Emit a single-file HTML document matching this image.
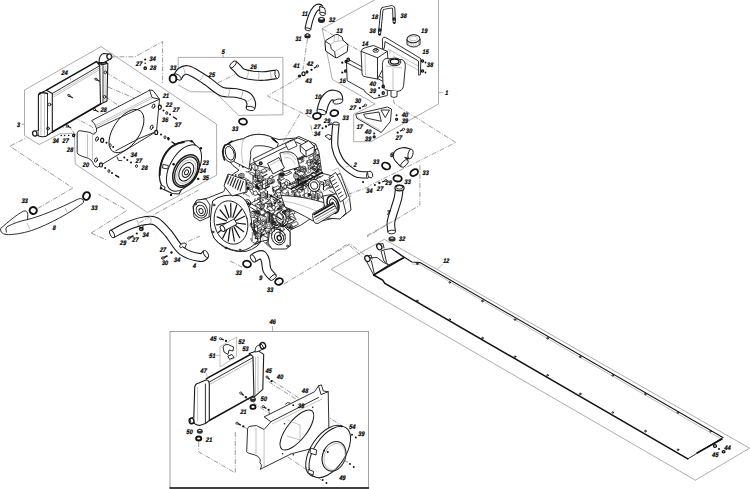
<!DOCTYPE html>
<html><head><meta charset="utf-8"><style>
html,body{margin:0;padding:0;background:#fff;overflow:hidden;width:750px;height:489px;}
svg{display:block;}
text{font-family:"Liberation Sans",sans-serif;font-style:italic;font-weight:bold;fill:#000;stroke:#000;stroke-width:0.22;text-anchor:middle;}
.ln{fill:none;stroke:#1a1a1a;stroke-width:0.9;stroke-linejoin:round;stroke-linecap:round;}
.lnw{fill:#fff;stroke:#1a1a1a;stroke-width:0.9;}
.lnk{fill:none;stroke:#111;stroke-width:1.3;}
.thk{fill:none;stroke:#111;stroke-width:1.5;stroke-linecap:round;}
.box{fill:none;stroke:#8a8a8a;stroke-width:0.7;}
.dsh{fill:none;stroke:#666;stroke-width:0.65;stroke-dasharray:5 1.5 1 1.5;}
.gry{fill:none;stroke:#999;stroke-width:0.6;}
.fw{fill:#fff;stroke:#1a1a1a;stroke-width:0.9;stroke-linejoin:round;}
</style></head><body>
<svg width="750" height="489" viewBox="0 0 750 489">
<rect width="750" height="489" fill="#fff"/>
<polygon class="box" points="24.5,90.0 101.0,46.6 216.6,124.2 216.6,175.2 147.5,212.5 75.2,164.0 74.4,133.3 59.7,133.9 39.2,144.5 24.5,135.5" />
<line class="box" x1="21.5" y1="124.3" x2="24.5" y2="124.3"/>
<text transform="translate(18.4,126.7) scale(0.86,1) skewX(-4)" font-size="6.6">3</text>
<polyline class="box" points="178.2,72.9 178.2,57.4 282.9,57.4 282.9,114.8 238.7,115.4 215.0,92.0 190.5,91.7 178.2,85.0" />
<line class="box" x1="223.2" y1="55.0" x2="223.2" y2="57.4"/>
<text transform="translate(223.2,54.2) scale(0.86,1) skewX(-4)" font-size="6.6">5</text>
<polyline class="box" points="374.5,0.0 322.2,28.5 332.3,79.4 375.2,104.0 353.7,114.2 353.7,141.7 371.0,141.7 438.5,104.0 438.5,0.0" />
<line class="box" x1="438.5" y1="92.7" x2="443.0" y2="92.7"/>
<text transform="translate(446.7,95.1) scale(0.86,1) skewX(-4)" font-size="6.6">1</text>
<polygon class="box" points="331.0,269.3 384.4,239.3 749.5,448.2 695.4,480.2" />
<rect x="170" y="331.4" width="198.5" height="156.6" fill="none" stroke="#8a8a8a" stroke-width="0.8"/>
<line class="thk" x1="170.0" y1="488.0" x2="368.5" y2="488.0"/>
<line class="box" x1="272.6" y1="326.0" x2="272.6" y2="331.4"/>
<text transform="translate(272.6,323.6) scale(0.86,1) skewX(-4)" font-size="6.6">46</text>
<polyline class="dsh" points="105.4,72.3 160.0,104.1" />
<polyline class="dsh" points="107.8,87.0 153.5,106.2" />
<polyline class="dsh" points="105.4,96.8 151.6,127.3" />
<polyline class="dsh" points="71.0,96.8 96.4,110.7 140.0,135.0" />
<polyline class="dsh" points="49.0,104.1 92.3,127.0 97.0,139.0" />
<polyline class="dsh" points="47.4,129.0 69.4,127.0 96.0,160.0" />
<polygon points="46.5,90.2 96.4,61.6 99.7,65.7 100.5,104.1 52.3,132 52.3,93.5" fill="#fff"/>
<polyline class="thk" points="46.5,90.2 96.4,61.6" />
<polyline class="ln" points="52.3,93.5 99.7,65.7" />
<polyline class="gry" points="53.0,95.3 100.0,67.6" />
<polyline class="gry" points="53.5,97.0 100.0,69.4" />
<polyline class="thk" points="52.3,132.0 100.5,104.1" style="stroke-width:1.7"/>
<path class="fw" d="M96.4,61.6 L102.1,64.9 L107.8,63.3 L107,100.9 L100.5,104.1 L99.7,65.7 Z" style="stroke-width:1.1"/>
<line class="ln" x1="103.0" y1="66.0" x2="103.0" y2="102.0"/>
<line class="gry" x1="105.2" y1="66.0" x2="105.0" y2="101.5"/>
<path class="ln" d="M99.5,64 L102.5,63 L106.5,62.5" style="stroke-width:1.3"/>
<path class="fw" d="M99,62.5 Q99,55 103.5,53.5 L108,54 L110.5,59 L104,62.5 Z" style="stroke-width:1.1"/>
<ellipse class="lnw" cx="109.3" cy="56.6" rx="2.4" ry="2.7" transform="rotate(-20 109.3 56.6)" style="stroke-width:1.3"/>
<circle class="ln" cx="105.4" cy="72.3" r="1.4" />
<circle class="ln" cx="104.6" cy="96.8" r="1.4" />
<path class="fw" d="M38.4,136 L38.4,95 Q39,92.2 42,92.2 L46.5,90.2 L52.3,93.5 L52.3,132 L47,135.5 Q46,137 42,136.8 Z" style="stroke-width:1.1"/>
<line class="gry" x1="41.0" y1="95.0" x2="41.0" y2="135.0"/>
<line class="gry" x1="44.5" y1="94.0" x2="44.5" y2="135.5"/>
<line class="ln" x1="47.5" y1="93.5" x2="47.5" y2="135.0"/>
<path class="ln" d="M39.5,94.5 Q40.5,92.8 43,92.6 L47.5,93.5" style="stroke-width:1.3"/>
<circle class="ln" cx="49.5" cy="104.5" r="1.4" />
<circle class="ln" cx="48.0" cy="128.5" r="1.4" />
<path class="fw" d="M38.5,130.5 L34,131.5 L35,136 L38.5,135" />
<ellipse class="lnw" cx="34.8" cy="133.5" rx="2.2" ry="2.7" transform="rotate(-10 34.8 133.5)" style="stroke-width:1.3"/>
<path class="ln" d="M69.2,95.7 L72.5,97.7" style="stroke-width:1.1"/>
<ellipse class="lnw" cx="69.0" cy="95.6" rx="1.3" ry="0.9" transform="rotate(30 69.0 95.6)" />
<path class="ln" d="M96.2,79.30000000000001 L99.5,81.30000000000001" style="stroke-width:1.1"/>
<ellipse class="lnw" cx="96.0" cy="79.2" rx="1.3" ry="0.9" transform="rotate(30 96.0 79.2)" />
<path class="ln" d="M94.60000000000001,109.60000000000001 L97.9,111.60000000000001" style="stroke-width:1.1"/>
<ellipse class="lnw" cx="94.4" cy="109.5" rx="1.3" ry="0.9" transform="rotate(30 94.4 109.5)" />
<path class="ln" d="M67.60000000000001,125.9 L70.9,127.9" style="stroke-width:1.1"/>
<ellipse class="lnw" cx="67.4" cy="125.8" rx="1.3" ry="0.9" transform="rotate(30 67.4 125.8)" />
<text transform="translate(64.4,74.9) scale(0.86,1) skewX(-4)" font-size="6.6">24</text>
<line class="gry" x1="70.5" y1="77.5" x2="70.5" y2="80.5"/>
<text transform="translate(103.6,111.7) scale(0.86,1) skewX(-4)" font-size="6.6">28</text>
<circle cx="145.2" cy="59.5" r="1.1" fill="#111"/>
<circle cx="145.2" cy="63.2" r="0.8" fill="#111"/>
<circle class="lnk" cx="145.2" cy="68.2" r="1.2" />
<text transform="translate(152.4,60.8) scale(0.86,1) skewX(-4)" font-size="6.6">34</text>
<text transform="translate(139.0,65.8) scale(0.86,1) skewX(-4)" font-size="6.6">27</text>
<text transform="translate(153.0,70.0) scale(0.86,1) skewX(-4)" font-size="6.6">28</text>
<polyline class="dsh" points="110.4,56.8 135.0,56.8 162.6,41.5 162.6,83.4" />
<path class="fw" d="M91.5,120.7 L147.3,91.5 L149.6,90 L153,90.5 L159.5,99.2 L156.5,131.4 L97.3,167.3 Q94,166 93.6,164.4 Q92,159 86,157.5 Q78,155.5 77.2,152.9 L77.2,133 Q77.5,130.7 80,130.7 L89.9,132.4 Q93,134.5 94.2,134.2 Q97.5,132 96.5,128.5 Q95,123 91.5,120.7 Z" />
<polyline class="ln" points="96.5,128.5 158.8,99.5" />
<polyline class="gry" points="95.0,125.5 151.0,96.8" />
<polyline class="gry" points="95.8,127.0 152.0,98.2" />
<path class="ln" d="M149.6,90 L152,97.5 L159.5,99.2" />
<path class="ln" d="M117,157 L118.5,160.5 L121.8,160.6" />
<path class="ln" d="M115.7,150.8 L139,138.5 L156.5,131.4" />
<line class="gry" x1="87.5" y1="134.0" x2="87.5" y2="157.0"/>
<line class="gry" x1="92.4" y1="135.0" x2="92.4" y2="160.0"/>
<ellipse class="ln" cx="126.5" cy="131.1" rx="13.2" ry="24.5" transform="rotate(33.7 126.5 131.1)" />
<ellipse class="ln" cx="97.0" cy="139.0" rx="1.3" ry="2.3" transform="rotate(20 97.0 139.0)" />
<ellipse class="ln" cx="96.0" cy="160.0" rx="1.3" ry="2.3" transform="rotate(20 96.0 160.0)" />
<ellipse class="ln" cx="151.6" cy="127.3" rx="1.3" ry="2.3" transform="rotate(20 151.6 127.3)" />
<ellipse class="ln" cx="153.5" cy="106.2" rx="1.3" ry="2.3" transform="rotate(20 153.5 106.2)" />
<text transform="translate(85.7,166.5) scale(0.86,1) skewX(-4)" font-size="6.6">20</text>
<ellipse cx="102.2" cy="140.3" rx="1.5" ry="2.1" fill="#fff" stroke="#111" stroke-width="1.2"/>
<circle cx="106.5" cy="142.8" r="1.0" fill="#111"/>
<ellipse cx="110.2" cy="145.2" rx="1.0" ry="1.4" fill="#fff" stroke="#111" stroke-width="0.9"/>
<circle cx="113.2" cy="147.1" r="1.0" fill="#111"/>
<ellipse cx="101.0" cy="164.9" rx="1.5" ry="2.1" fill="#fff" stroke="#111" stroke-width="1.2"/>
<circle cx="105.2" cy="168.0" r="1.0" fill="#111"/>
<ellipse cx="108.9" cy="171.0" rx="1.0" ry="1.4" fill="#fff" stroke="#111" stroke-width="0.9"/>
<circle cx="112.0" cy="172.9" r="1.0" fill="#111"/>
<ellipse cx="156.2" cy="132.4" rx="1.5" ry="2.1" fill="#fff" stroke="#111" stroke-width="1.2"/>
<circle cx="161.0" cy="134.6" r="1.0" fill="#111"/>
<ellipse cx="165.0" cy="137.2" rx="1.0" ry="1.4" fill="#fff" stroke="#111" stroke-width="0.9"/>
<circle cx="168.5" cy="139.5" r="1.0" fill="#111"/>
<ellipse cx="159.8" cy="107.2" rx="1.5" ry="2.1" fill="#fff" stroke="#111" stroke-width="1.2"/>
<circle cx="163.5" cy="110.4" r="1.0" fill="#111"/>
<ellipse cx="166.8" cy="113.0" rx="1.0" ry="1.4" fill="#fff" stroke="#111" stroke-width="0.9"/>
<circle cx="170.0" cy="114.5" r="1.0" fill="#111"/>
<circle cx="124.3" cy="157.5" r="1.0" fill="#111"/>
<circle cx="127.3" cy="160.0" r="1.0" fill="#111"/>
<circle cx="131.0" cy="162.4" r="1.0" fill="#111"/>
<ellipse cx="136.5" cy="166.1" rx="1.0" ry="1.4" fill="#fff" stroke="#111" stroke-width="0.9"/>
<path class="thk" d="M115.7,175.3 L118.7,177.1" />
<path class="thk" d="M172,142 L175,144" />
<path class="thk" d="M173.5,117 L176.5,119" />
<text transform="translate(165.8,98.2) scale(0.86,1) skewX(-4)" font-size="6.6">21</text>
<text transform="translate(169.0,107.0) scale(0.86,1) skewX(-4)" font-size="6.6">22</text>
<text transform="translate(176.0,112.4) scale(0.86,1) skewX(-4)" font-size="6.6">27</text>
<text transform="translate(165.0,121.7) scale(0.86,1) skewX(-4)" font-size="6.6">36</text>
<text transform="translate(177.7,126.8) scale(0.86,1) skewX(-4)" font-size="6.6">37</text>
<text transform="translate(133.7,157.0) scale(0.86,1) skewX(-4)" font-size="6.6">34</text>
<text transform="translate(138.7,162.8) scale(0.86,1) skewX(-4)" font-size="6.6">27</text>
<text transform="translate(144.4,169.6) scale(0.86,1) skewX(-4)" font-size="6.6">28</text>
<circle cx="61.3" cy="135.5" r="0.8" fill="#111"/>
<circle cx="64.6" cy="135.5" r="0.8" fill="#111"/>
<circle cx="68.7" cy="135.5" r="0.8" fill="#111"/>
<circle class="lnk" cx="73.6" cy="135.5" r="1.1" />
<text transform="translate(55.6,142.8) scale(0.86,1) skewX(-4)" font-size="6.6">34</text>
<text transform="translate(65.4,142.8) scale(0.86,1) skewX(-4)" font-size="6.6">27</text>
<text transform="translate(70.0,151.5) scale(0.86,1) skewX(-4)" font-size="6.6">28</text>
<path class="fw" d="M181.5,142 Q190,139.5 193,142 L199,150 L201,155 L179,194 L172.3,193.5 L165,190 Q158,183 159.5,170 Q162,155 170,148 Q175,143.5 181.5,142 Z" style="stroke-width:1.2"/>
<path class="ln" d="M159.8,175 Q160,156 172,146.5 Q178,142.5 184,142" style="stroke-width:1.8"/>
<ellipse class="fw" cx="184.0" cy="168.0" rx="14" ry="25.5" transform="rotate(30 184.0 168.0)" style="stroke-width:1.0"/>
<ellipse class="ln" cx="186.0" cy="171.0" rx="11.5" ry="17.5" transform="rotate(30 186.0 171.0)" style="stroke-width:1.5"/>
<ellipse class="ln" cx="186.2" cy="171.3" rx="10" ry="15.5" transform="rotate(30 186.2 171.3)" style="stroke-width:1.2"/>
<ellipse class="gry" cx="186.3" cy="171.6" rx="8.3" ry="12.8" transform="rotate(30 186.3 171.6)" />
<ellipse class="ln" cx="186.3" cy="171.8" rx="6.5" ry="10" transform="rotate(30 186.3 171.8)" style="stroke-width:1.0"/>
<ellipse class="ln" cx="186.5" cy="172.2" rx="3.8" ry="5.5" transform="rotate(30 186.5 172.2)" style="stroke-width:1.1"/>
<ellipse class="ln" cx="186.5" cy="172.3" rx="1.8" ry="2.6" transform="rotate(30 186.5 172.3)" />
<path class="fw" d="M163,164.3 L168.3,165.5 L168,169 L162.5,168 Z" />
<path class="fw" d="M161,185 L165,187 L164.5,190 L160.5,188 Z" />
<circle cx="173.6" cy="164.3" r="1.2" fill="#111"/>
<circle cx="191.6" cy="141.2" r="1.2" fill="#111"/>
<circle cx="200.9" cy="148.3" r="1.2" fill="#111"/>
<circle cx="198.2" cy="178.9" r="1.2" fill="#111"/>
<circle cx="171.0" cy="194.9" r="1.2" fill="#111"/>
<circle cx="161.0" cy="188.2" r="1.2" fill="#111"/>
<circle cx="168.3" cy="138.3" r="1.2" fill="#111"/>
<text transform="translate(205.6,165.1) scale(0.86,1) skewX(-4)" font-size="6.6">23</text>
<text transform="translate(202.7,172.5) scale(0.86,1) skewX(-4)" font-size="6.6">34</text>
<text transform="translate(205.6,179.8) scale(0.86,1) skewX(-4)" font-size="6.6">35</text>
<path d="M177.5,77.0 C178.1,76.2 179.4,73.2 181.0,72.0 C182.6,70.8 184.7,69.7 187.2,70.0 C189.7,70.3 192.7,72.2 196.0,74.0 C199.3,75.8 202.7,78.1 207.0,81.0 C211.3,83.9 216.8,89.5 221.6,91.5 C226.4,93.5 231.7,92.2 236.0,93.0 C240.3,93.8 244.8,94.8 247.3,96.5 C249.8,98.2 250.7,101.0 251.2,103.0 C251.7,105.0 250.5,107.6 250.4,108.5" fill="none" stroke="#1a1a1a" stroke-width="9.7" stroke-linecap="butt"/>
<path d="M177.5,77.0 C178.1,76.2 179.4,73.2 181.0,72.0 C182.6,70.8 184.7,69.7 187.2,70.0 C189.7,70.3 192.7,72.2 196.0,74.0 C199.3,75.8 202.7,78.1 207.0,81.0 C211.3,83.9 216.8,89.5 221.6,91.5 C226.4,93.5 231.7,92.2 236.0,93.0 C240.3,93.8 244.8,94.8 247.3,96.5 C249.8,98.2 250.7,101.0 251.2,103.0 C251.7,105.0 250.5,107.6 250.4,108.5" fill="none" stroke="#fff" stroke-width="7.5" stroke-linecap="butt"/>
<path d="M185.3,74.6 Q185.2,70.6 182.9,67.4" fill="none" stroke="#888" stroke-width="0.6"/>
<path d="M199.5,80.7 Q202.5,78.1 203.5,74.3" fill="none" stroke="#888" stroke-width="0.6"/>
<path d="M228.4,96.0 Q230.0,92.4 229.2,88.5" fill="none" stroke="#888" stroke-width="0.6"/>
<path d="M240.5,98.3 Q242.8,95.1 242.8,91.2" fill="none" stroke="#888" stroke-width="0.6"/>
<path d="M246.0,101.7 Q249.9,100.8 252.5,97.8" fill="none" stroke="#888" stroke-width="0.6"/>
<ellipse class="lnw" cx="177.5" cy="77.0" rx="2.1" ry="4.3" transform="rotate(124.99202019855868 177.5 77.0)" />
<ellipse class="lnw" cx="250.4" cy="108.5" rx="2.1" ry="4.3" transform="rotate(98.27589282707504 250.4 108.5)" />
<ellipse cx="173.0" cy="78.7" rx="3.4" ry="3.9" transform="rotate(0 173.0 78.7)" fill="#fff" stroke="#111" stroke-width="1.9"/>
<text transform="translate(173.0,70.1) scale(0.86,1) skewX(-4)" font-size="6.6">33</text>
<text transform="translate(211.7,76.6) scale(0.86,1) skewX(-4)" font-size="6.6">25</text>
<path d="M233.0,64.4 C233.8,65.1 236.0,67.1 237.5,68.5 C239.0,69.9 239.4,71.8 242.0,73.0 C244.6,74.2 249.3,75.0 253.0,75.5 C256.7,76.0 260.0,76.2 264.0,76.0 C268.0,75.8 274.8,74.5 277.0,74.2" fill="none" stroke="#1a1a1a" stroke-width="9.7" stroke-linecap="butt"/>
<path d="M233.0,64.4 C233.8,65.1 236.0,67.1 237.5,68.5 C239.0,69.9 239.4,71.8 242.0,73.0 C244.6,74.2 249.3,75.0 253.0,75.5 C256.7,76.0 260.0,76.2 264.0,76.0 C268.0,75.8 274.8,74.5 277.0,74.2" fill="none" stroke="#fff" stroke-width="7.5" stroke-linecap="butt"/>
<path d="M246.7,77.9 Q248.7,74.5 248.3,70.6" fill="none" stroke="#888" stroke-width="0.6"/>
<path d="M258.3,79.5 Q259.7,75.8 258.7,72.0" fill="none" stroke="#888" stroke-width="0.6"/>
<path d="M271.0,78.8 Q271.7,74.9 270.0,71.4" fill="none" stroke="#888" stroke-width="0.6"/>
<ellipse class="lnw" cx="233.0" cy="64.4" rx="2.1" ry="4.3" transform="rotate(-137.6630007660672 233.0 64.4)" />
<ellipse class="lnw" cx="277.0" cy="74.2" rx="2.1" ry="4.3" transform="rotate(-7.883139316729717 277.0 74.2)" />
<text transform="translate(253.4,68.9) scale(0.86,1) skewX(-4)" font-size="6.6">26</text>
<polyline class="dsh" points="217.8,83.0 235.0,74.4" />
<ellipse cx="243.0" cy="121.6" rx="4" ry="3" transform="rotate(10 243.0 121.6)" fill="#fff" stroke="#111" stroke-width="1.8"/>
<text transform="translate(235.0,130.7) scale(0.86,1) skewX(-4)" font-size="6.6">33</text>
<path class="fw" d="M0.6,228.6 C8,222 16,215 23.4,211.2 Q27.5,209.8 27.8,214.5 L27.6,219.5 C40,216.5 58,209 78.5,198.9 Q83.5,197.5 83.6,202.5 C70,213 50,224 31.7,230.5 C22,233.5 12,235 6,234.5 Q0,233.5 0.6,228.6 Z" style="stroke-width:0.9"/>
<path class="ln" d="M6.3,232 Q5,228 7,226.7 C12,224 20,221 27.6,219.5" />
<line class="gry" x1="12.7" y1="220.4" x2="15.2" y2="223.0"/>
<line class="gry" x1="27.2" y1="223.0" x2="29.8" y2="229.3"/>
<line class="gry" x1="65.2" y1="207.7" x2="67.8" y2="214.0"/>
<ellipse cx="33.2" cy="210.5" rx="3.6" ry="3.4" transform="rotate(20 33.2 210.5)" fill="#fff" stroke="#111" stroke-width="2.0"/>
<text transform="translate(24.6,202.7) scale(0.86,1) skewX(-4)" font-size="6.6">33</text>
<ellipse cx="86.5" cy="196.0" rx="3.3" ry="3.9" transform="rotate(25 86.5 196.0)" fill="#fff" stroke="#111" stroke-width="2.0"/>
<text transform="translate(94.2,209.9) scale(0.86,1) skewX(-4)" font-size="6.6">33</text>
<text transform="translate(54.0,229.7) scale(0.86,1) skewX(-4)" font-size="6.6">8</text>
<polyline class="dsh" points="37.6,208.5 72.8,188.0 9.8,146.2 26.0,138.0" />
<path d="M112.0,234.0 C115.0,232.5 124.5,227.2 130.0,225.0 C135.5,222.8 140.7,221.3 145.0,220.7 C149.3,220.1 152.2,219.4 156.0,221.5 C159.8,223.6 163.7,228.1 168.0,233.0 C172.3,237.9 176.7,246.9 182.0,251.0 C187.3,255.1 196.0,257.0 200.0,257.5 C204.0,258.0 205.0,254.6 206.0,254.0" fill="none" stroke="#1a1a1a" stroke-width="9.0" stroke-linecap="butt"/>
<path d="M112.0,234.0 C115.0,232.5 124.5,227.2 130.0,225.0 C135.5,222.8 140.7,221.3 145.0,220.7 C149.3,220.1 152.2,219.4 156.0,221.5 C159.8,223.6 163.7,228.1 168.0,233.0 C172.3,237.9 176.7,246.9 182.0,251.0 C187.3,255.1 196.0,257.0 200.0,257.5 C204.0,258.0 205.0,254.6 206.0,254.0" fill="none" stroke="#fff" stroke-width="6.8" stroke-linecap="butt"/>
<path d="M138.4,226.1 Q138.7,222.5 136.6,219.6" fill="none" stroke="#888" stroke-width="0.6"/>
<path d="M150.3,224.5 Q151.7,221.2 150.7,217.7" fill="none" stroke="#888" stroke-width="0.6"/>
<ellipse class="lnw" cx="112.0" cy="234.0" rx="1.9040000000000001" ry="3.95" transform="rotate(153.434948822922 112.0 234.0)" />
<ellipse class="lnw" cx="206.0" cy="254.0" rx="1.9040000000000001" ry="3.95" transform="rotate(-30.256437163529263 206.0 254.0)" />
<path class="ln" d="M128,238.5 L133,236" style="stroke-width:1.6"/>
<ellipse class="lnw" cx="129.0" cy="238.0" rx="1.3" ry="1.1" transform="rotate(0 129.0 238.0)" />
<circle cx="136.8" cy="233.5" r="1.1" fill="#111"/>
<path class="fw" d="M139.5,227 Q141,223.5 143,226 L142.5,230 Z" />
<ellipse class="lnk" cx="141.3" cy="229.0" rx="1.8" ry="1.5" transform="rotate(0 141.3 229.0)" />
<text transform="translate(123.0,244.5) scale(0.86,1) skewX(-4)" font-size="6.6">29</text>
<text transform="translate(135.2,242.4) scale(0.86,1) skewX(-4)" font-size="6.6">27</text>
<text transform="translate(145.4,237.0) scale(0.86,1) skewX(-4)" font-size="6.6">34</text>
<path class="ln" d="M162,258.5 L167,256" style="stroke-width:1.6"/>
<ellipse class="lnw" cx="163.0" cy="258.0" rx="1.3" ry="1.1" transform="rotate(0 163.0 258.0)" />
<circle cx="171.5" cy="252.5" r="1.2" fill="#111"/>
<path class="fw" d="M179.5,246 Q182,241.5 186.5,244 L185,248 Q182,245.5 180.5,248 Z" />
<text transform="translate(162.8,251.7) scale(0.86,1) skewX(-4)" font-size="6.6">27</text>
<text transform="translate(164.8,265.0) scale(0.86,1) skewX(-4)" font-size="6.6">30</text>
<text transform="translate(177.0,261.9) scale(0.86,1) skewX(-4)" font-size="6.6">34</text>
<text transform="translate(194.4,268.4) scale(0.86,1) skewX(-4)" font-size="6.6">4</text>
<polyline class="dsh" points="91.2,233.0 127.0,210.4 98.4,194.1" />
<polyline class="dsh" points="91.2,233.0 106.6,240.0" />
<polyline class="dsh" points="139.3,222.7 198.6,190.0" />
<polyline class="dsh" points="180.0,245.0 200.0,236.0" />
<path d="M253.0,258.5 C253.8,258.0 256.4,256.1 258.0,255.5 C259.6,254.9 261.2,254.1 262.5,255.0 C263.8,255.9 264.8,258.5 265.5,261.0 C266.2,263.5 265.8,267.2 267.0,270.0 C268.2,272.8 272.0,276.2 273.0,277.5" fill="none" stroke="#1a1a1a" stroke-width="9.2" stroke-linecap="butt"/>
<path d="M253.0,258.5 C253.8,258.0 256.4,256.1 258.0,255.5 C259.6,254.9 261.2,254.1 262.5,255.0 C263.8,255.9 264.8,258.5 265.5,261.0 C266.2,263.5 265.8,267.2 267.0,270.0 C268.2,272.8 272.0,276.2 273.0,277.5" fill="none" stroke="#fff" stroke-width="7" stroke-linecap="butt"/>
<ellipse class="lnw" cx="253.0" cy="258.5" rx="1.9600000000000002" ry="4.05" transform="rotate(149.03624346792648 253.0 258.5)" />
<ellipse class="lnw" cx="273.0" cy="277.5" rx="1.9600000000000002" ry="4.05" transform="rotate(51.34019174590991 273.0 277.5)" />
<ellipse cx="247.0" cy="264.0" rx="4" ry="3.2" transform="rotate(15 247.0 264.0)" fill="#fff" stroke="#111" stroke-width="1.8"/>
<text transform="translate(238.6,275.4) scale(0.86,1) skewX(-4)" font-size="6.6">33</text>
<ellipse cx="279.0" cy="281.5" rx="4" ry="3.2" transform="rotate(-25 279.0 281.5)" fill="#fff" stroke="#111" stroke-width="1.8"/>
<text transform="translate(270.0,292.4) scale(0.86,1) skewX(-4)" font-size="6.6">33</text>
<text transform="translate(260.7,279.9) scale(0.86,1) skewX(-4)" font-size="6.6">9</text>
<polyline class="dsh" points="230.0,261.0 242.0,267.0" />
<polyline class="dsh" points="284.0,284.0 350.0,244.0 366.0,256.0" />
<path d="M307.8,29.3 C308.2,27.4 308.9,23.6 310.0,20.0 C311.1,16.4 312.0,14.1 313.5,11.5 C315.0,8.9 315.9,7.9 317.5,7.2 C319.1,6.5 320.7,7.7 321.5,7.8" fill="none" stroke="#1a1a1a" stroke-width="6.8" stroke-linecap="butt"/>
<path d="M307.8,29.3 C308.2,27.4 308.9,23.6 310.0,20.0 C311.1,16.4 312.0,14.1 313.5,11.5 C315.0,8.9 315.9,7.9 317.5,7.2 C319.1,6.5 320.7,7.7 321.5,7.8" fill="none" stroke="#fff" stroke-width="4.6" stroke-linecap="butt"/>
<ellipse class="lnw" cx="307.8" cy="29.3" rx="1.288" ry="2.8499999999999996" transform="rotate(103.3091786954004 307.8 29.3)" />
<ellipse class="lnw" cx="321.5" cy="7.8" rx="1.288" ry="2.8499999999999996" transform="rotate(8.530765609948128 321.5 7.8)" />
<path class="fw" d="M319.5,6.5 L324.5,8 Q326,11 325,14.2 L320,13.5 Z" />
<ellipse class="lnw" cx="322.6" cy="13.9" rx="2.7" ry="1.6" transform="rotate(10 322.6 13.9)" />
<ellipse cx="321.5" cy="20" rx="3.6" ry="2.9" fill="#222"/>
<ellipse class="lnw" cx="321.5" cy="18.8" rx="2.4" ry="1.3" transform="rotate(0 321.5 18.8)" />
<text transform="translate(332.0,21.7) scale(0.86,1) skewX(-4)" font-size="6.6">32</text>
<ellipse cx="307.5" cy="36" rx="3.2" ry="2.5" fill="#222"/>
<ellipse class="lnw" cx="307.5" cy="35.0" rx="2.0" ry="1.1" transform="rotate(0 307.5 35.0)" />
<text transform="translate(298.3,41.4) scale(0.86,1) skewX(-4)" font-size="6.6">31</text>
<text transform="translate(304.7,15.7) scale(0.86,1) skewX(-4)" font-size="6.6">11</text>
<polyline class="dsh" points="307.5,39.0 302.9,70.0" />
<ellipse cx="299.5" cy="76" rx="1.8" ry="1.5" fill="#222"/>
<ellipse class="lnk" cx="303.5" cy="73.8" rx="1.6" ry="1.9" transform="rotate(0 303.5 73.8)" />
<ellipse cx="307" cy="72" rx="1.5" ry="1.8" fill="#222"/>
<line x1="317.5" y1="66.0" x2="313.9" y2="68.3" stroke="#111" stroke-width="1.3"/>
<ellipse cx="317.5" cy="66.0" rx="1.2" ry="1.0" fill="#fff" stroke="#111" stroke-width="0.8"/>
<circle cx="311.5" cy="69.8" r="1.15" fill="#111"/>
<text transform="translate(296.4,67.7) scale(0.86,1) skewX(-4)" font-size="6.6">41</text>
<text transform="translate(309.9,66.4) scale(0.86,1) skewX(-4)" font-size="6.6">42</text>
<text transform="translate(308.4,83.4) scale(0.86,1) skewX(-4)" font-size="6.6">43</text>
<polyline class="dsh" points="322.2,28.5 363.6,53.4" />
<defs><clipPath id="engclip"><path d="M222.2,151.8 L229.6,143 C236,140 241,139 243.4,138.8 C252,133 264,133 272.9,137.9 L279,139.5 L295.8,138 L298.9,136.5 L315.7,144.1 L318.8,151.8 L321.9,173.3 L334.1,176.3 L340.3,173.3 L349.5,197.8 L351,210 L343.3,216.2 L318.8,221.5 L309.6,219.3 L300.4,225.4 L290,230 L290,246 L282,248.4 L269.7,246.9 L262,240 Q258,248 246,251.4 L236.9,251.4 Q222,249 214,238 L211.5,216.2 L208,217 L194.6,209 L196.1,200.9 L208.4,197.8 L223.7,191.7 L229.9,176.3 L239,170.2 L233,165.6 Z"/></clipPath></defs>
<path class="fw" d="M222.2,151.8 L229.6,143 C236,140 241,139 243.4,138.8 C252,133 264,133 272.9,137.9 L279,139.5 L295.8,138 L298.9,136.5 L315.7,144.1 L318.8,151.8 L321.9,173.3 L334.1,176.3 L340.3,173.3 L349.5,197.8 L351,210 L343.3,216.2 L318.8,221.5 L309.6,219.3 L300.4,225.4 L290,230 L290,246 L282,248.4 L269.7,246.9 L262,240 Q258,248 246,251.4 L236.9,251.4 Q222,249 214,238 L211.5,216.2 L208,217 L194.6,209 L196.1,200.9 L208.4,197.8 L223.7,191.7 L229.9,176.3 L239,170.2 L233,165.6 Z" style="stroke-width:0.9"/>
<g clip-path="url(#engclip)">
<path d="M273.6,202.5 A3.4,3.4 0 0 1 278.6,199.7" fill="none" stroke="#1a1a1a" stroke-width="0.8"/>
<line x1="235.8" y1="174.0" x2="235.8" y2="182.1" stroke="#1a1a1a" stroke-width="1.1"/>
<line x1="246.9" y1="167.1" x2="251.7" y2="170.0" stroke="#1a1a1a" stroke-width="0.7"/>
<polygon points="284.7,211.7 289.3,209.4 291.2,212.5 286.6,214.8" fill="#fff" stroke="#1a1a1a" stroke-width="0.7"/>
<line x1="261.3" y1="165.7" x2="268.0" y2="162.4" stroke="#1a1a1a" stroke-width="0.55"/>
<line x1="271.0" y1="234.8" x2="279.8" y2="230.4" stroke="#1a1a1a" stroke-width="0.55"/>
<ellipse cx="231.0" cy="182.1" rx="1.6" ry="1.9" fill="#fff" stroke="#1a1a1a" stroke-width="0.75"/>
<line x1="290.1" y1="162.2" x2="295.0" y2="165.1" stroke="#1a1a1a" stroke-width="1.1"/>
<line x1="276.5" y1="161.4" x2="276.5" y2="167.4" stroke="#1a1a1a" stroke-width="1.1"/>
<line x1="260.0" y1="239.1" x2="269.4" y2="244.7" stroke="#1a1a1a" stroke-width="0.55"/>
<line x1="269.4" y1="210.3" x2="277.9" y2="206.0" stroke="#1a1a1a" stroke-width="0.7"/>
<polygon points="308.4,157.7 313.2,155.4 314.9,158.2 310.1,160.6" fill="#fff" stroke="#1a1a1a" stroke-width="0.7"/>
<line x1="254.3" y1="222.9" x2="262.6" y2="227.8" stroke="#1a1a1a" stroke-width="1.1"/>
<ellipse cx="258.7" cy="159.6" rx="1.0" ry="1.2" fill="#fff" stroke="#1a1a1a" stroke-width="0.75"/>
<line x1="257.2" y1="242.7" x2="260.4" y2="241.2" stroke="#1a1a1a" stroke-width="1.1"/>
<polygon points="245.3,181.3 247.8,180.0 250.6,181.7 248.0,183.0" fill="#fff" stroke="#1a1a1a" stroke-width="0.7"/>
<line x1="280.5" y1="221.8" x2="283.7" y2="220.2" stroke="#1a1a1a" stroke-width="0.9"/>
<path d="M261.5,219.0 A4.6,4.6 0 0 1 265.0,212.1" fill="none" stroke="#1a1a1a" stroke-width="0.8"/>
<polygon points="269.0,205.3 271.3,204.1 275.0,206.3 272.7,207.5" fill="#fff" stroke="#1a1a1a" stroke-width="0.7"/>
<polygon points="269.7,222.3 273.4,220.4 276.1,224.9 272.3,226.8" fill="#fff" stroke="#1a1a1a" stroke-width="0.7"/>
<line x1="294.1" y1="193.9" x2="294.1" y2="197.8" stroke="#1a1a1a" stroke-width="1.1"/>
<line x1="259.6" y1="216.0" x2="267.7" y2="211.9" stroke="#1a1a1a" stroke-width="0.9"/>
<circle cx="300.9" cy="189.5" r="1.0" fill="#111"/>
<polygon points="326.2,183.1 329.5,181.4 330.7,183.4 327.4,185.0" fill="#fff" stroke="#1a1a1a" stroke-width="0.7"/>
<polygon points="256.8,158.9 259.9,157.4 261.3,159.6 258.2,161.2" fill="#fff" stroke="#1a1a1a" stroke-width="0.7"/>
<line x1="297.0" y1="195.3" x2="297.0" y2="201.9" stroke="#1a1a1a" stroke-width="0.55"/>
<polygon points="320.3,171.1 325.0,168.8 326.5,171.3 321.8,173.6" fill="#fff" stroke="#1a1a1a" stroke-width="0.7"/>
<line x1="298.7" y1="185.4" x2="302.9" y2="187.9" stroke="#1a1a1a" stroke-width="0.7"/>
<line x1="286.6" y1="211.7" x2="294.2" y2="207.9" stroke="#1a1a1a" stroke-width="0.7"/>
<ellipse cx="319.7" cy="168.7" rx="2.3" ry="2.7" fill="#fff" stroke="#1a1a1a" stroke-width="0.75"/>
<circle cx="319.7" cy="168.7" r="1.1" fill="none" stroke="#1a1a1a" stroke-width="0.6"/>
<polygon points="327.7,183.5 330.4,182.1 333.2,186.7 330.4,188.1" fill="#fff" stroke="#1a1a1a" stroke-width="0.7"/>
<polygon points="288.3,213.1 293.5,210.5 295.1,213.2 289.9,215.8" fill="#fff" stroke="#1a1a1a" stroke-width="0.7"/>
<line x1="252.9" y1="183.7" x2="259.1" y2="187.5" stroke="#1a1a1a" stroke-width="0.9"/>
<line x1="255.1" y1="220.4" x2="255.1" y2="224.1" stroke="#1a1a1a" stroke-width="1.1"/>
<line x1="264.3" y1="187.2" x2="268.6" y2="185.1" stroke="#1a1a1a" stroke-width="0.55"/>
<path d="M289.7,216.9 A3.4,3.4 0 0 1 284.9,220.0" fill="none" stroke="#1a1a1a" stroke-width="0.8"/>
<circle cx="303.0" cy="189.3" r="1.2" fill="#111"/>
<circle cx="275.5" cy="202.6" r="1.1" fill="#111"/>
<line x1="272.3" y1="152.8" x2="275.0" y2="154.5" stroke="#1a1a1a" stroke-width="0.55"/>
<circle cx="284.3" cy="184.9" r="1.2" fill="#111"/>
<line x1="281.5" y1="217.4" x2="281.5" y2="224.1" stroke="#1a1a1a" stroke-width="1.1"/>
<line x1="256.0" y1="193.0" x2="264.7" y2="198.2" stroke="#1a1a1a" stroke-width="1.1"/>
<circle cx="282.5" cy="205.2" r="1.2" fill="#111"/>
<polygon points="250.1,164.2 254.5,162.0 256.4,163.2 252.1,165.4" fill="#fff" stroke="#1a1a1a" stroke-width="0.7"/>
<line x1="297.2" y1="178.9" x2="297.2" y2="184.5" stroke="#1a1a1a" stroke-width="0.7"/>
<line x1="252.5" y1="221.4" x2="258.3" y2="218.5" stroke="#1a1a1a" stroke-width="1.1"/>
<line x1="287.5" y1="218.9" x2="287.5" y2="227.4" stroke="#1a1a1a" stroke-width="0.55"/>
<line x1="266.1" y1="231.9" x2="266.1" y2="239.0" stroke="#1a1a1a" stroke-width="0.9"/>
<line x1="282.8" y1="216.8" x2="289.0" y2="213.7" stroke="#1a1a1a" stroke-width="0.55"/>
<line x1="284.2" y1="203.7" x2="287.7" y2="201.9" stroke="#1a1a1a" stroke-width="0.7"/>
<line x1="278.1" y1="225.6" x2="283.6" y2="228.9" stroke="#1a1a1a" stroke-width="0.9"/>
<line x1="274.5" y1="207.3" x2="274.5" y2="210.6" stroke="#1a1a1a" stroke-width="0.7"/>
<ellipse cx="245.8" cy="190.8" rx="1.6" ry="1.9" fill="#fff" stroke="#1a1a1a" stroke-width="0.75"/>
<polygon points="297.4,185.3 301.4,183.3 306.3,186.3 302.3,188.3" fill="#fff" stroke="#1a1a1a" stroke-width="0.7"/>
<ellipse cx="254.7" cy="242.1" rx="2.3" ry="2.7" fill="#fff" stroke="#1a1a1a" stroke-width="0.75"/>
<circle cx="254.7" cy="242.1" r="1.1" fill="none" stroke="#1a1a1a" stroke-width="0.6"/>
<circle cx="318.7" cy="185.4" r="1.4" fill="#111"/>
<ellipse cx="313.0" cy="185.4" rx="1.0" ry="1.2" fill="#fff" stroke="#1a1a1a" stroke-width="0.75"/>
<line x1="264.3" y1="192.5" x2="273.7" y2="198.1" stroke="#1a1a1a" stroke-width="0.55"/>
<ellipse cx="301.6" cy="177.8" rx="1.9" ry="2.3" fill="#fff" stroke="#1a1a1a" stroke-width="0.75"/>
<circle cx="301.6" cy="177.8" r="0.9" fill="none" stroke="#1a1a1a" stroke-width="0.6"/>
<path d="M285.1,179.9 A3.9,3.9 0 0 1 290.2,184.1" fill="none" stroke="#1a1a1a" stroke-width="0.8"/>
<polygon points="253.9,241.4 257.9,239.4 262.8,242.3 258.7,244.4" fill="#fff" stroke="#1a1a1a" stroke-width="0.7"/>
<line x1="243.4" y1="192.8" x2="249.7" y2="196.6" stroke="#1a1a1a" stroke-width="0.55"/>
<line x1="274.4" y1="195.4" x2="281.1" y2="199.4" stroke="#1a1a1a" stroke-width="0.9"/>
<line x1="286.0" y1="194.1" x2="293.1" y2="198.4" stroke="#1a1a1a" stroke-width="0.9"/>
<line x1="272.0" y1="216.6" x2="279.7" y2="221.3" stroke="#1a1a1a" stroke-width="0.55"/>
<line x1="261.7" y1="229.3" x2="261.7" y2="236.2" stroke="#1a1a1a" stroke-width="0.7"/>
<line x1="253.2" y1="219.1" x2="258.9" y2="222.5" stroke="#1a1a1a" stroke-width="0.7"/>
<line x1="324.0" y1="180.0" x2="329.6" y2="183.3" stroke="#1a1a1a" stroke-width="1.1"/>
<polygon points="273.2,227.1 279.2,224.1 284.1,227.0 278.1,230.0" fill="#fff" stroke="#1a1a1a" stroke-width="0.7"/>
<line x1="296.9" y1="180.2" x2="296.9" y2="189.0" stroke="#1a1a1a" stroke-width="0.7"/>
<path d="M250.3,164.6 A4.7,4.7 0 0 1 248.4,172.4" fill="none" stroke="#1a1a1a" stroke-width="0.8"/>
<ellipse cx="256.2" cy="187.6" rx="1.0" ry="1.2" fill="#fff" stroke="#1a1a1a" stroke-width="0.75"/>
<polygon points="297.6,181.8 300.4,180.4 303.1,182.0 300.3,183.4" fill="#fff" stroke="#1a1a1a" stroke-width="0.7"/>
<line x1="249.5" y1="187.5" x2="254.8" y2="184.9" stroke="#1a1a1a" stroke-width="0.9"/>
<circle cx="258.5" cy="225.0" r="0.8" fill="#111"/>
<circle cx="274.7" cy="203.6" r="1.1" fill="#111"/>
<polygon points="260.7,242.0 265.4,239.6 268.7,241.5 263.9,243.9" fill="#fff" stroke="#1a1a1a" stroke-width="0.7"/>
<line x1="262.7" y1="238.8" x2="262.7" y2="247.6" stroke="#1a1a1a" stroke-width="0.9"/>
<path d="M275.0,210.6 A4.1,4.1 0 0 1 272.4,204.3" fill="none" stroke="#1a1a1a" stroke-width="0.8"/>
<ellipse cx="277.7" cy="164.8" rx="1.8" ry="2.1" fill="#fff" stroke="#1a1a1a" stroke-width="0.75"/>
<circle cx="277.7" cy="164.8" r="0.9" fill="none" stroke="#1a1a1a" stroke-width="0.6"/>
<line x1="310.0" y1="181.2" x2="318.6" y2="176.9" stroke="#1a1a1a" stroke-width="0.7"/>
<path d="M288.9,199.8 A4.0,4.0 0 0 1 290.4,206.3" fill="none" stroke="#1a1a1a" stroke-width="0.8"/>
<line x1="315.6" y1="149.4" x2="315.6" y2="153.3" stroke="#1a1a1a" stroke-width="0.9"/>
<ellipse cx="313.0" cy="198.4" rx="1.6" ry="1.9" fill="#fff" stroke="#1a1a1a" stroke-width="0.75"/>
<polygon points="302.3,195.3 307.2,192.8 311.2,195.2 306.3,197.7" fill="#fff" stroke="#1a1a1a" stroke-width="0.7"/>
<ellipse cx="272.2" cy="232.5" rx="2.4" ry="2.9" fill="#fff" stroke="#1a1a1a" stroke-width="0.75"/>
<circle cx="272.2" cy="232.5" r="1.2" fill="none" stroke="#1a1a1a" stroke-width="0.6"/>
<line x1="273.5" y1="187.1" x2="273.5" y2="191.4" stroke="#1a1a1a" stroke-width="1.1"/>
<line x1="303.7" y1="175.9" x2="303.7" y2="181.3" stroke="#1a1a1a" stroke-width="0.55"/>
<line x1="279.2" y1="221.8" x2="287.5" y2="217.7" stroke="#1a1a1a" stroke-width="0.7"/>
<line x1="317.0" y1="175.0" x2="321.1" y2="177.4" stroke="#1a1a1a" stroke-width="0.7"/>
<polygon points="294.0,192.9 297.8,191.0 300.5,195.6 296.8,197.5" fill="#fff" stroke="#1a1a1a" stroke-width="0.7"/>
<polygon points="288.3,235.6 291.9,233.8 296.8,236.7 293.1,238.5" fill="#fff" stroke="#1a1a1a" stroke-width="0.7"/>
<line x1="313.7" y1="150.4" x2="323.2" y2="145.6" stroke="#1a1a1a" stroke-width="1.1"/>
<line x1="329.1" y1="190.4" x2="335.8" y2="194.4" stroke="#1a1a1a" stroke-width="0.7"/>
<line x1="272.8" y1="226.5" x2="272.8" y2="230.5" stroke="#1a1a1a" stroke-width="0.9"/>
<polygon points="239.8,179.4 243.9,177.3 248.5,180.1 244.4,182.2" fill="#fff" stroke="#1a1a1a" stroke-width="0.7"/>
<line x1="287.5" y1="196.7" x2="293.2" y2="193.8" stroke="#1a1a1a" stroke-width="0.55"/>
<line x1="314.9" y1="189.3" x2="321.0" y2="193.0" stroke="#1a1a1a" stroke-width="0.7"/>
<polygon points="261.4,185.4 267.3,182.4 269.6,186.3 263.7,189.2" fill="#fff" stroke="#1a1a1a" stroke-width="0.7"/>
<circle cx="239.0" cy="189.9" r="1.3" fill="#111"/>
<polygon points="260.6,170.7 265.2,168.4 267.0,171.4 262.5,173.7" fill="#fff" stroke="#1a1a1a" stroke-width="0.7"/>
<circle cx="313.7" cy="178.3" r="1.4" fill="#111"/>
<ellipse cx="280.5" cy="243.2" rx="2.2" ry="2.6" fill="#fff" stroke="#1a1a1a" stroke-width="0.75"/>
<circle cx="280.5" cy="243.2" r="1.0" fill="none" stroke="#1a1a1a" stroke-width="0.6"/>
<line x1="295.5" y1="175.6" x2="295.5" y2="182.8" stroke="#1a1a1a" stroke-width="0.9"/>
<ellipse cx="263.1" cy="178.3" rx="1.0" ry="1.2" fill="#fff" stroke="#1a1a1a" stroke-width="0.75"/>
<ellipse cx="268.4" cy="197.0" rx="2.4" ry="2.8" fill="#fff" stroke="#1a1a1a" stroke-width="0.75"/>
<circle cx="268.4" cy="197.0" r="1.1" fill="none" stroke="#1a1a1a" stroke-width="0.6"/>
<path d="M293.1,160.7 A3.6,3.6 0 0 1 293.6,154.5" fill="none" stroke="#1a1a1a" stroke-width="0.8"/>
<path d="M281.8,152.4 A3.5,3.5 0 0 1 286.0,156.6" fill="none" stroke="#1a1a1a" stroke-width="0.8"/>
<path d="M302.2,177.6 A3.1,3.1 0 0 1 305.8,173.8" fill="none" stroke="#1a1a1a" stroke-width="0.8"/>
<polygon points="287.5,202.8 290.6,201.3 295.2,204.1 292.2,205.6" fill="#fff" stroke="#1a1a1a" stroke-width="0.7"/>
<line x1="258.2" y1="240.5" x2="258.2" y2="246.4" stroke="#1a1a1a" stroke-width="0.7"/>
<ellipse cx="260.4" cy="215.2" rx="1.6" ry="1.8" fill="#fff" stroke="#1a1a1a" stroke-width="0.75"/>
<line x1="255.3" y1="203.6" x2="255.3" y2="212.9" stroke="#1a1a1a" stroke-width="0.7"/>
<line x1="271.4" y1="195.7" x2="276.8" y2="199.0" stroke="#1a1a1a" stroke-width="1.1"/>
<path d="M314.2,190.8 A4.5,4.5 0 0 1 313.5,198.4" fill="none" stroke="#1a1a1a" stroke-width="0.8"/>
<polygon points="272.0,188.6 277.7,185.8 281.0,187.8 275.4,190.6" fill="#fff" stroke="#1a1a1a" stroke-width="0.7"/>
<line x1="274.7" y1="241.3" x2="279.5" y2="238.9" stroke="#1a1a1a" stroke-width="1.1"/>
<polygon points="311.5,174.1 313.7,173.0 314.9,174.9 312.6,176.1" fill="#fff" stroke="#1a1a1a" stroke-width="0.7"/>
<line x1="282.8" y1="184.4" x2="282.8" y2="188.3" stroke="#1a1a1a" stroke-width="0.7"/>
<path d="M292.3,213.5 A4.6,4.6 0 0 1 285.8,217.8" fill="none" stroke="#1a1a1a" stroke-width="0.8"/>
<polygon points="267.4,201.2 270.1,199.8 272.3,203.6 269.7,204.9" fill="#fff" stroke="#1a1a1a" stroke-width="0.7"/>
<polygon points="284.8,154.6 288.6,152.6 291.1,154.2 287.3,156.1" fill="#fff" stroke="#1a1a1a" stroke-width="0.7"/>
<polygon points="275.7,190.4 278.3,189.1 280.6,193.0 278.0,194.3" fill="#fff" stroke="#1a1a1a" stroke-width="0.7"/>
<line x1="260.2" y1="190.9" x2="266.2" y2="194.5" stroke="#1a1a1a" stroke-width="1.1"/>
<path d="M284.9,170.2 A4.0,4.0 0 0 1 283.5,163.7" fill="none" stroke="#1a1a1a" stroke-width="0.8"/>
<circle cx="256.5" cy="187.1" r="1.0" fill="#111"/>
<line x1="272.7" y1="159.0" x2="272.7" y2="163.5" stroke="#1a1a1a" stroke-width="0.7"/>
<line x1="307.8" y1="196.2" x2="312.9" y2="199.2" stroke="#1a1a1a" stroke-width="0.55"/>
<line x1="256.8" y1="211.7" x2="262.7" y2="208.8" stroke="#1a1a1a" stroke-width="0.55"/>
<line x1="317.4" y1="149.8" x2="321.8" y2="147.5" stroke="#1a1a1a" stroke-width="0.9"/>
<ellipse cx="315.9" cy="156.9" rx="2.6" ry="3.0" fill="#fff" stroke="#1a1a1a" stroke-width="0.75"/>
<circle cx="315.9" cy="156.9" r="1.2" fill="none" stroke="#1a1a1a" stroke-width="0.6"/>
<ellipse cx="258.5" cy="232.6" rx="2.7" ry="3.2" fill="#fff" stroke="#1a1a1a" stroke-width="0.75"/>
<circle cx="258.5" cy="232.6" r="1.3" fill="none" stroke="#1a1a1a" stroke-width="0.6"/>
<ellipse cx="237.9" cy="188.8" rx="1.9" ry="2.2" fill="#fff" stroke="#1a1a1a" stroke-width="0.75"/>
<circle cx="237.9" cy="188.8" r="0.9" fill="none" stroke="#1a1a1a" stroke-width="0.6"/>
<ellipse cx="254.5" cy="220.2" rx="1.3" ry="1.6" fill="#fff" stroke="#1a1a1a" stroke-width="0.75"/>
<polygon points="287.6,235.5 290.6,234.0 292.8,235.3 289.8,236.8" fill="#fff" stroke="#1a1a1a" stroke-width="0.7"/>
<ellipse cx="317.7" cy="196.4" rx="2.5" ry="2.9" fill="#fff" stroke="#1a1a1a" stroke-width="0.75"/>
<circle cx="317.7" cy="196.4" r="1.2" fill="none" stroke="#1a1a1a" stroke-width="0.6"/>
<ellipse cx="313.0" cy="195.8" rx="1.8" ry="2.1" fill="#fff" stroke="#1a1a1a" stroke-width="0.75"/>
<circle cx="313.0" cy="195.8" r="0.8" fill="none" stroke="#1a1a1a" stroke-width="0.6"/>
<path d="M278.4,240.8 A4.0,4.0 0 0 1 283.2,245.7" fill="none" stroke="#1a1a1a" stroke-width="0.8"/>
<line x1="323.4" y1="186.9" x2="328.7" y2="184.2" stroke="#1a1a1a" stroke-width="0.9"/>
<line x1="249.5" y1="182.4" x2="254.5" y2="185.4" stroke="#1a1a1a" stroke-width="0.7"/>
<polygon points="280.2,184.8 285.3,182.3 287.2,185.5 282.1,188.0" fill="#fff" stroke="#1a1a1a" stroke-width="0.7"/>
<line x1="287.1" y1="186.9" x2="292.2" y2="190.0" stroke="#1a1a1a" stroke-width="0.9"/>
<ellipse cx="296.4" cy="198.1" rx="1.8" ry="2.1" fill="#fff" stroke="#1a1a1a" stroke-width="0.75"/>
<circle cx="296.4" cy="198.1" r="0.9" fill="none" stroke="#1a1a1a" stroke-width="0.6"/>
<line x1="276.7" y1="235.7" x2="284.6" y2="240.4" stroke="#1a1a1a" stroke-width="0.55"/>
<polygon points="259.8,208.1 262.5,206.7 264.5,210.0 261.7,211.4" fill="#fff" stroke="#1a1a1a" stroke-width="0.7"/>
<polygon points="249.0,186.0 253.8,183.6 257.1,185.6 252.3,188.0" fill="#fff" stroke="#1a1a1a" stroke-width="0.7"/>
<line x1="261.1" y1="190.6" x2="269.7" y2="186.3" stroke="#1a1a1a" stroke-width="1.1"/>
<circle cx="271.6" cy="183.3" r="0.9" fill="#111"/>
<line x1="258.6" y1="178.6" x2="267.3" y2="174.3" stroke="#1a1a1a" stroke-width="1.1"/>
<polygon points="269.1,176.8 272.2,175.2 273.4,177.3 270.3,178.8" fill="#fff" stroke="#1a1a1a" stroke-width="0.7"/>
<line x1="279.7" y1="158.7" x2="287.6" y2="154.7" stroke="#1a1a1a" stroke-width="1.1"/>
<line x1="317.5" y1="193.6" x2="317.5" y2="199.0" stroke="#1a1a1a" stroke-width="0.55"/>
<circle cx="256.3" cy="182.2" r="0.9" fill="#111"/>
<line x1="262.2" y1="181.8" x2="262.2" y2="191.9" stroke="#1a1a1a" stroke-width="1.1"/>
<circle cx="269.2" cy="178.2" r="0.7" fill="#111"/>
<path d="M279.4,187.4 A3.2,3.2 0 0 1 280.6,192.5" fill="none" stroke="#1a1a1a" stroke-width="0.8"/>
<path d="M255.2,198.4 A4.9,4.9 0 0 1 248.2,202.8" fill="none" stroke="#1a1a1a" stroke-width="0.8"/>
<ellipse cx="287.9" cy="235.1" rx="1.0" ry="1.2" fill="#fff" stroke="#1a1a1a" stroke-width="0.75"/>
<line x1="248.9" y1="184.4" x2="257.5" y2="180.1" stroke="#1a1a1a" stroke-width="0.7"/>
<circle cx="263.3" cy="217.2" r="0.9" fill="#111"/>
<ellipse cx="272.7" cy="181.1" rx="1.8" ry="2.1" fill="#fff" stroke="#1a1a1a" stroke-width="0.75"/>
<circle cx="272.7" cy="181.1" r="0.8" fill="none" stroke="#1a1a1a" stroke-width="0.6"/>
<ellipse cx="299.3" cy="180.6" rx="2.6" ry="3.0" fill="#fff" stroke="#1a1a1a" stroke-width="0.75"/>
<circle cx="299.3" cy="180.6" r="1.2" fill="none" stroke="#1a1a1a" stroke-width="0.6"/>
<ellipse cx="322.6" cy="197.4" rx="0.9" ry="1.1" fill="#fff" stroke="#1a1a1a" stroke-width="0.75"/>
<polygon points="296.5,186.2 299.9,184.5 302.8,186.3 299.4,188.0" fill="#fff" stroke="#1a1a1a" stroke-width="0.7"/>
<line x1="304.8" y1="168.3" x2="304.8" y2="173.9" stroke="#1a1a1a" stroke-width="0.9"/>
<ellipse cx="289.8" cy="154.5" rx="1.1" ry="1.3" fill="#fff" stroke="#1a1a1a" stroke-width="0.75"/>
<path d="M257.4,209.8 A3.4,3.4 0 0 1 262.0,213.3" fill="none" stroke="#1a1a1a" stroke-width="0.8"/>
<line x1="255.8" y1="170.4" x2="255.8" y2="176.5" stroke="#1a1a1a" stroke-width="0.7"/>
<path d="M256.8,224.0 A2.4,2.4 0 0 1 256.5,220.0" fill="none" stroke="#1a1a1a" stroke-width="0.8"/>
<line x1="280.6" y1="181.8" x2="280.6" y2="187.1" stroke="#1a1a1a" stroke-width="1.1"/>
<line x1="308.0" y1="185.7" x2="308.0" y2="191.8" stroke="#1a1a1a" stroke-width="0.7"/>
<line x1="287.8" y1="229.6" x2="296.4" y2="225.3" stroke="#1a1a1a" stroke-width="0.9"/>
<line x1="326.3" y1="188.5" x2="330.9" y2="186.1" stroke="#1a1a1a" stroke-width="0.7"/>
<line x1="256.5" y1="184.8" x2="262.6" y2="181.7" stroke="#1a1a1a" stroke-width="0.9"/>
<line x1="288.4" y1="202.6" x2="297.5" y2="198.1" stroke="#1a1a1a" stroke-width="0.9"/>
<polygon points="265.4,202.7 268.3,201.3 271.9,203.5 269.1,204.9" fill="#fff" stroke="#1a1a1a" stroke-width="0.7"/>
<line x1="254.0" y1="161.1" x2="263.8" y2="156.2" stroke="#1a1a1a" stroke-width="1.1"/>
<line x1="266.9" y1="225.9" x2="275.3" y2="221.7" stroke="#1a1a1a" stroke-width="1.1"/>
<circle cx="270.9" cy="229.9" r="1.3" fill="#111"/>
<line x1="306.1" y1="168.1" x2="306.1" y2="172.2" stroke="#1a1a1a" stroke-width="0.9"/>
<ellipse cx="269.7" cy="181.4" rx="2.4" ry="2.8" fill="#fff" stroke="#1a1a1a" stroke-width="0.75"/>
<circle cx="269.7" cy="181.4" r="1.1" fill="none" stroke="#1a1a1a" stroke-width="0.6"/>
<line x1="266.9" y1="211.5" x2="270.0" y2="213.3" stroke="#1a1a1a" stroke-width="0.9"/>
<line x1="240.0" y1="174.1" x2="243.3" y2="176.1" stroke="#1a1a1a" stroke-width="0.7"/>
<circle cx="269.9" cy="243.1" r="1.3" fill="#111"/>
<line x1="295.9" y1="178.6" x2="295.9" y2="186.6" stroke="#1a1a1a" stroke-width="0.55"/>
<polygon points="310.6,188.9 315.9,186.2 317.9,189.4 312.5,192.1" fill="#fff" stroke="#1a1a1a" stroke-width="0.7"/>
<line x1="255.1" y1="160.7" x2="259.4" y2="163.3" stroke="#1a1a1a" stroke-width="0.9"/>
<circle cx="277.2" cy="200.1" r="0.9" fill="#111"/>
<line x1="257.2" y1="212.1" x2="257.2" y2="218.6" stroke="#1a1a1a" stroke-width="1.1"/>
<line x1="318.3" y1="160.0" x2="327.5" y2="165.5" stroke="#1a1a1a" stroke-width="0.7"/>
<circle cx="245.9" cy="183.5" r="1.2" fill="#111"/>
<line x1="308.7" y1="162.1" x2="317.2" y2="157.8" stroke="#1a1a1a" stroke-width="0.9"/>
<ellipse cx="254.7" cy="178.5" rx="1.4" ry="1.7" fill="#fff" stroke="#1a1a1a" stroke-width="0.75"/>
<polygon points="255.6,182.0 258.7,180.4 259.9,182.4 256.8,183.9" fill="#fff" stroke="#1a1a1a" stroke-width="0.7"/>
<line x1="273.1" y1="195.2" x2="282.0" y2="190.7" stroke="#1a1a1a" stroke-width="0.9"/>
<line x1="247.9" y1="186.4" x2="247.9" y2="189.9" stroke="#1a1a1a" stroke-width="1.1"/>
<ellipse cx="263.3" cy="205.4" rx="1.4" ry="1.6" fill="#fff" stroke="#1a1a1a" stroke-width="0.75"/>
<circle cx="268.1" cy="206.4" r="1.0" fill="#111"/>
<line x1="277.1" y1="163.4" x2="285.0" y2="159.5" stroke="#1a1a1a" stroke-width="0.9"/>
<line x1="280.2" y1="213.0" x2="289.8" y2="208.2" stroke="#1a1a1a" stroke-width="1.1"/>
<polygon points="284.6,205.4 289.9,202.8 291.9,206.1 286.5,208.7" fill="#fff" stroke="#1a1a1a" stroke-width="0.7"/>
<line x1="279.5" y1="239.0" x2="282.3" y2="237.6" stroke="#1a1a1a" stroke-width="0.9"/>
<line x1="286.6" y1="199.8" x2="291.5" y2="197.4" stroke="#1a1a1a" stroke-width="0.55"/>
<line x1="260.5" y1="179.5" x2="260.5" y2="185.8" stroke="#1a1a1a" stroke-width="0.55"/>
<line x1="318.1" y1="196.4" x2="318.1" y2="203.6" stroke="#1a1a1a" stroke-width="1.1"/>
<line x1="307.0" y1="153.3" x2="314.9" y2="149.4" stroke="#1a1a1a" stroke-width="1.1"/>
<ellipse cx="259.6" cy="248.2" rx="2.4" ry="2.9" fill="#fff" stroke="#1a1a1a" stroke-width="0.75"/>
<circle cx="259.6" cy="248.2" r="1.1" fill="none" stroke="#1a1a1a" stroke-width="0.6"/>
<ellipse cx="262.8" cy="194.8" rx="2.5" ry="3.0" fill="#fff" stroke="#1a1a1a" stroke-width="0.75"/>
<circle cx="262.8" cy="194.8" r="1.2" fill="none" stroke="#1a1a1a" stroke-width="0.6"/>
<line x1="282.6" y1="241.2" x2="287.0" y2="243.9" stroke="#1a1a1a" stroke-width="0.9"/>
<ellipse cx="316.0" cy="183.1" rx="1.5" ry="1.7" fill="#fff" stroke="#1a1a1a" stroke-width="0.75"/>
<polygon points="238.4,174.8 241.1,173.5 242.8,176.4 240.1,177.7" fill="#fff" stroke="#1a1a1a" stroke-width="0.7"/>
<ellipse cx="284.8" cy="199.0" rx="1.5" ry="1.8" fill="#fff" stroke="#1a1a1a" stroke-width="0.75"/>
<line x1="293.2" y1="151.8" x2="298.5" y2="149.1" stroke="#1a1a1a" stroke-width="0.9"/>
<circle cx="312.2" cy="178.6" r="0.9" fill="#111"/>
<line x1="250.9" y1="168.0" x2="259.5" y2="163.8" stroke="#1a1a1a" stroke-width="0.9"/>
<line x1="298.9" y1="146.4" x2="298.9" y2="150.0" stroke="#1a1a1a" stroke-width="0.7"/>
<path d="M277.3,218.3 A4.8,4.8 0 0 1 269.4,219.1" fill="none" stroke="#1a1a1a" stroke-width="0.8"/>
<ellipse cx="314.9" cy="189.3" rx="1.6" ry="1.8" fill="#fff" stroke="#1a1a1a" stroke-width="0.75"/>
<line x1="276.5" y1="188.9" x2="285.2" y2="194.2" stroke="#1a1a1a" stroke-width="0.55"/>
<ellipse cx="265.9" cy="233.1" rx="2.2" ry="2.5" fill="#fff" stroke="#1a1a1a" stroke-width="0.75"/>
<circle cx="265.9" cy="233.1" r="1.0" fill="none" stroke="#1a1a1a" stroke-width="0.6"/>
<ellipse cx="270.7" cy="217.4" rx="1.1" ry="1.3" fill="#fff" stroke="#1a1a1a" stroke-width="0.75"/>
<circle cx="256.5" cy="185.7" r="1.4" fill="#111"/>
<ellipse cx="281.9" cy="188.9" rx="1.8" ry="2.1" fill="#fff" stroke="#1a1a1a" stroke-width="0.75"/>
<circle cx="281.9" cy="188.9" r="0.9" fill="none" stroke="#1a1a1a" stroke-width="0.6"/>
<circle cx="280.4" cy="201.5" r="1.3" fill="#111"/>
<ellipse cx="268.4" cy="229.9" rx="1.7" ry="2.0" fill="#fff" stroke="#1a1a1a" stroke-width="0.75"/>
<ellipse cx="292.7" cy="191.8" rx="1.1" ry="1.3" fill="#fff" stroke="#1a1a1a" stroke-width="0.75"/>
<line x1="305.9" y1="184.4" x2="310.1" y2="186.9" stroke="#1a1a1a" stroke-width="0.9"/>
<line x1="265.4" y1="186.0" x2="273.8" y2="181.8" stroke="#1a1a1a" stroke-width="0.9"/>
<line x1="268.4" y1="220.2" x2="268.4" y2="223.8" stroke="#1a1a1a" stroke-width="0.7"/>
<line x1="277.4" y1="194.5" x2="277.4" y2="198.3" stroke="#1a1a1a" stroke-width="0.9"/>
<line x1="282.6" y1="156.8" x2="289.2" y2="153.5" stroke="#1a1a1a" stroke-width="0.9"/>
<path d="M280.3,192.9 A3.1,3.1 0 0 1 279.1,187.9" fill="none" stroke="#1a1a1a" stroke-width="0.8"/>
<line x1="309.8" y1="178.5" x2="316.7" y2="175.1" stroke="#1a1a1a" stroke-width="0.9"/>
<path d="M303.2,184.8 A4.2,4.2 0 0 1 301.0,178.1" fill="none" stroke="#1a1a1a" stroke-width="0.8"/>
<line x1="255.4" y1="167.9" x2="255.4" y2="178.0" stroke="#1a1a1a" stroke-width="0.9"/>
<line x1="257.9" y1="202.8" x2="262.6" y2="200.5" stroke="#1a1a1a" stroke-width="0.9"/>
<circle cx="242.5" cy="183.6" r="1.1" fill="#111"/>
<ellipse cx="317.0" cy="158.2" rx="2.2" ry="2.5" fill="#fff" stroke="#1a1a1a" stroke-width="0.75"/>
<circle cx="317.0" cy="158.2" r="1.0" fill="none" stroke="#1a1a1a" stroke-width="0.6"/>
<ellipse cx="260.2" cy="187.8" rx="2.1" ry="2.4" fill="#fff" stroke="#1a1a1a" stroke-width="0.75"/>
<circle cx="260.2" cy="187.8" r="1.0" fill="none" stroke="#1a1a1a" stroke-width="0.6"/>
<ellipse cx="287.4" cy="193.9" rx="1.5" ry="1.8" fill="#fff" stroke="#1a1a1a" stroke-width="0.75"/>
<circle cx="256.1" cy="221.4" r="0.8" fill="#111"/>
<path d="M286.9,208.4 A4.2,4.2 0 0 1 285.2,201.5" fill="none" stroke="#1a1a1a" stroke-width="0.8"/>
<line x1="267.3" y1="179.6" x2="267.3" y2="187.9" stroke="#1a1a1a" stroke-width="0.7"/>
<line x1="265.7" y1="195.9" x2="265.7" y2="199.7" stroke="#1a1a1a" stroke-width="0.7"/>
<path d="M283.4,205.2 A3.7,3.7 0 0 1 277.5,203.5" fill="none" stroke="#1a1a1a" stroke-width="0.8"/>
<ellipse cx="259.5" cy="177.6" rx="2.6" ry="3.1" fill="#fff" stroke="#1a1a1a" stroke-width="0.75"/>
<circle cx="259.5" cy="177.6" r="1.2" fill="none" stroke="#1a1a1a" stroke-width="0.6"/>
<ellipse cx="281.3" cy="206.2" rx="2.0" ry="2.3" fill="#fff" stroke="#1a1a1a" stroke-width="0.75"/>
<circle cx="281.3" cy="206.2" r="0.9" fill="none" stroke="#1a1a1a" stroke-width="0.6"/>
<line x1="271.9" y1="177.6" x2="281.0" y2="173.0" stroke="#1a1a1a" stroke-width="0.7"/>
<polygon points="255.2,205.6 258.5,203.9 260.8,207.8 257.5,209.5" fill="#fff" stroke="#1a1a1a" stroke-width="0.7"/>
<line x1="252.0" y1="238.8" x2="256.2" y2="236.7" stroke="#1a1a1a" stroke-width="1.1"/>
<line x1="280.1" y1="227.8" x2="287.6" y2="224.0" stroke="#1a1a1a" stroke-width="0.9"/>
<line x1="283.6" y1="222.8" x2="292.0" y2="218.6" stroke="#1a1a1a" stroke-width="0.55"/>
<line x1="253.1" y1="164.4" x2="258.4" y2="161.7" stroke="#1a1a1a" stroke-width="0.9"/>
<line x1="273.2" y1="215.1" x2="278.6" y2="212.4" stroke="#1a1a1a" stroke-width="0.9"/>
<line x1="289.7" y1="245.7" x2="292.7" y2="244.2" stroke="#1a1a1a" stroke-width="0.55"/>
<line x1="264.3" y1="244.2" x2="264.3" y2="249.8" stroke="#1a1a1a" stroke-width="0.55"/>
<line x1="277.2" y1="181.7" x2="280.8" y2="183.8" stroke="#1a1a1a" stroke-width="0.55"/>
<circle cx="318.9" cy="189.6" r="0.9" fill="#111"/>
<ellipse cx="302.9" cy="160.8" rx="1.0" ry="1.2" fill="#fff" stroke="#1a1a1a" stroke-width="0.75"/>
<polygon points="280.6,240.0 284.0,238.3 287.0,243.3 283.6,245.0" fill="#fff" stroke="#1a1a1a" stroke-width="0.7"/>
<line x1="278.9" y1="216.0" x2="278.9" y2="222.2" stroke="#1a1a1a" stroke-width="0.55"/>
<path d="M269.3,233.1 A2.1,2.1 0 0 1 271.0,230.1" fill="none" stroke="#1a1a1a" stroke-width="0.8"/>
<path d="M266.1,156.2 A3.0,3.0 0 0 1 265.9,161.2" fill="none" stroke="#1a1a1a" stroke-width="0.8"/>
<line x1="289.6" y1="217.0" x2="289.6" y2="222.6" stroke="#1a1a1a" stroke-width="0.9"/>
<polygon points="295.4,188.1 298.4,186.6 301.3,191.4 298.3,192.9" fill="#fff" stroke="#1a1a1a" stroke-width="0.7"/>
<path d="M282.8,201.1 A4.3,4.3 0 0 1 278.8,207.2" fill="none" stroke="#1a1a1a" stroke-width="0.8"/>
<line x1="261.1" y1="202.2" x2="261.1" y2="212.7" stroke="#1a1a1a" stroke-width="0.9"/>
<circle cx="271.1" cy="195.7" r="1.2" fill="#111"/>
<line x1="236.8" y1="179.5" x2="243.0" y2="176.5" stroke="#1a1a1a" stroke-width="1.1"/>
<ellipse cx="242.4" cy="175.4" rx="1.8" ry="2.1" fill="#fff" stroke="#1a1a1a" stroke-width="0.75"/>
<circle cx="242.4" cy="175.4" r="0.8" fill="none" stroke="#1a1a1a" stroke-width="0.6"/>
<line x1="304.3" y1="190.0" x2="304.3" y2="200.3" stroke="#1a1a1a" stroke-width="0.7"/>
<path d="M257.8,167.2 A2.1,2.1 0 0 1 260.9,165.5" fill="none" stroke="#1a1a1a" stroke-width="0.8"/>
<polygon points="264.5,228.7 270.1,225.9 274.9,228.7 269.2,231.5" fill="#fff" stroke="#1a1a1a" stroke-width="0.7"/>
<line x1="296.6" y1="154.0" x2="304.5" y2="158.7" stroke="#1a1a1a" stroke-width="0.55"/>
<line x1="298.5" y1="195.1" x2="301.3" y2="196.8" stroke="#1a1a1a" stroke-width="0.7"/>
<ellipse cx="274.6" cy="192.3" rx="0.9" ry="1.1" fill="#fff" stroke="#1a1a1a" stroke-width="0.75"/>
<line x1="255.7" y1="226.4" x2="264.6" y2="231.8" stroke="#1a1a1a" stroke-width="0.55"/>
<polygon points="258.4,246.6 264.3,243.7 266.8,247.9 260.9,250.8" fill="#fff" stroke="#1a1a1a" stroke-width="0.7"/>
<polygon points="257.1,198.5 259.3,197.5 263.8,200.2 261.6,201.2" fill="#fff" stroke="#1a1a1a" stroke-width="0.7"/>
<line x1="279.4" y1="223.4" x2="288.8" y2="218.7" stroke="#1a1a1a" stroke-width="0.9"/>
<line x1="252.8" y1="176.7" x2="262.3" y2="171.9" stroke="#1a1a1a" stroke-width="0.9"/>
<line x1="298.6" y1="186.4" x2="306.9" y2="182.2" stroke="#1a1a1a" stroke-width="0.55"/>
<ellipse cx="239.0" cy="188.5" rx="2.3" ry="2.7" fill="#fff" stroke="#1a1a1a" stroke-width="0.75"/>
<circle cx="239.0" cy="188.5" r="1.1" fill="none" stroke="#1a1a1a" stroke-width="0.6"/>
<path d="M288.8,216.5 A4.7,4.7 0 0 1 284.6,209.8" fill="none" stroke="#1a1a1a" stroke-width="0.8"/>
<line x1="285.7" y1="161.2" x2="289.7" y2="159.2" stroke="#1a1a1a" stroke-width="0.9"/>
<path d="M250.9,168.3 A3.7,3.7 0 0 1 245.7,171.6" fill="none" stroke="#1a1a1a" stroke-width="0.8"/>
<circle cx="278.5" cy="208.9" r="1.5" fill="#111"/>
<line x1="282.3" y1="227.9" x2="282.3" y2="232.8" stroke="#1a1a1a" stroke-width="1.1"/>
<polygon points="233.4,183.8 235.8,182.6 240.6,185.5 238.2,186.7" fill="#fff" stroke="#1a1a1a" stroke-width="0.7"/>
<line x1="281.0" y1="205.8" x2="281.0" y2="209.8" stroke="#1a1a1a" stroke-width="0.9"/>
<line x1="248.5" y1="188.7" x2="254.2" y2="185.9" stroke="#1a1a1a" stroke-width="0.9"/>
<ellipse cx="296.5" cy="150.0" rx="1.9" ry="2.2" fill="#fff" stroke="#1a1a1a" stroke-width="0.75"/>
<circle cx="296.5" cy="150.0" r="0.9" fill="none" stroke="#1a1a1a" stroke-width="0.6"/>
<path d="M287.2,231.8 A4.7,4.7 0 0 1 279.4,232.6" fill="none" stroke="#1a1a1a" stroke-width="0.8"/>
<polygon points="251.1,165.6 255.5,163.4 258.5,168.4 254.1,170.6" fill="#fff" stroke="#1a1a1a" stroke-width="0.7"/>
<polygon points="249.5,173.4 251.8,172.3 255.4,174.4 253.0,175.6" fill="#fff" stroke="#1a1a1a" stroke-width="0.7"/>
<circle cx="289.8" cy="183.8" r="1.0" fill="#111"/>
<line x1="268.7" y1="236.7" x2="276.7" y2="232.7" stroke="#1a1a1a" stroke-width="1.1"/>
<ellipse cx="270.0" cy="206.1" rx="2.3" ry="2.7" fill="#fff" stroke="#1a1a1a" stroke-width="0.75"/>
<circle cx="270.0" cy="206.1" r="1.1" fill="none" stroke="#1a1a1a" stroke-width="0.6"/>
<polygon points="253.9,219.0 258.1,216.9 261.1,221.9 256.9,223.9" fill="#fff" stroke="#1a1a1a" stroke-width="0.7"/>
<ellipse cx="314.8" cy="176.4" rx="2.6" ry="3.1" fill="#fff" stroke="#1a1a1a" stroke-width="0.75"/>
<circle cx="314.8" cy="176.4" r="1.2" fill="none" stroke="#1a1a1a" stroke-width="0.6"/>
<polygon points="256.6,203.5 260.5,201.5 262.6,202.8 258.6,204.8" fill="#fff" stroke="#1a1a1a" stroke-width="0.7"/>
<line x1="258.3" y1="230.3" x2="261.6" y2="228.6" stroke="#1a1a1a" stroke-width="0.55"/>
<path d="M281.5,198.3 A3.7,3.7 0 0 1 277.4,203.0" fill="none" stroke="#1a1a1a" stroke-width="0.8"/>
<line x1="265.6" y1="225.0" x2="271.9" y2="228.8" stroke="#1a1a1a" stroke-width="0.7"/>
<line x1="268.1" y1="213.6" x2="274.9" y2="217.7" stroke="#1a1a1a" stroke-width="0.7"/>
<ellipse cx="258.5" cy="177.0" rx="1.5" ry="1.8" fill="#fff" stroke="#1a1a1a" stroke-width="0.75"/>
<path d="M260.6,226.6 A4.5,4.5 0 0 1 266.5,231.4" fill="none" stroke="#1a1a1a" stroke-width="0.8"/>
<polygon points="315.6,171.5 319.1,169.8 322.5,171.9 319.1,173.6" fill="#fff" stroke="#1a1a1a" stroke-width="0.7"/>
<path d="M265.0,209.7 A4.4,4.4 0 0 1 263.0,216.7" fill="none" stroke="#1a1a1a" stroke-width="0.8"/>
<line x1="279.4" y1="207.7" x2="288.0" y2="212.8" stroke="#1a1a1a" stroke-width="0.7"/>
<circle cx="281.7" cy="214.9" r="1.3" fill="#111"/>
<ellipse cx="262.3" cy="206.5" rx="1.8" ry="2.1" fill="#fff" stroke="#1a1a1a" stroke-width="0.75"/>
<circle cx="262.3" cy="206.5" r="0.8" fill="none" stroke="#1a1a1a" stroke-width="0.6"/>
<ellipse cx="286.3" cy="183.3" rx="1.6" ry="1.9" fill="#fff" stroke="#1a1a1a" stroke-width="0.75"/>
<ellipse cx="317.0" cy="189.8" rx="1.3" ry="1.5" fill="#fff" stroke="#1a1a1a" stroke-width="0.75"/>
<line x1="318.9" y1="180.6" x2="325.1" y2="184.3" stroke="#1a1a1a" stroke-width="0.7"/>
<line x1="257.8" y1="173.2" x2="257.8" y2="182.5" stroke="#1a1a1a" stroke-width="1.1"/>
<circle cx="257.8" cy="161.4" r="1.4" fill="#111"/>
<line x1="310.6" y1="190.9" x2="310.6" y2="195.7" stroke="#1a1a1a" stroke-width="0.7"/>
<polygon points="284.2,174.7 290.2,171.7 291.9,172.8 286.0,175.8" fill="#fff" stroke="#1a1a1a" stroke-width="0.7"/>
<line x1="269.8" y1="211.6" x2="269.8" y2="222.5" stroke="#1a1a1a" stroke-width="1.1"/>
<line x1="293.0" y1="201.2" x2="293.0" y2="205.6" stroke="#1a1a1a" stroke-width="1.1"/>
<line x1="252.9" y1="174.8" x2="252.9" y2="182.0" stroke="#1a1a1a" stroke-width="0.7"/>
<ellipse cx="255.2" cy="231.2" rx="2.3" ry="2.7" fill="#fff" stroke="#1a1a1a" stroke-width="0.75"/>
<circle cx="255.2" cy="231.2" r="1.1" fill="none" stroke="#1a1a1a" stroke-width="0.6"/>
<line x1="316.8" y1="155.7" x2="324.7" y2="151.7" stroke="#1a1a1a" stroke-width="1.1"/>
<line x1="310.3" y1="175.8" x2="319.7" y2="171.1" stroke="#1a1a1a" stroke-width="0.55"/>
<line x1="269.6" y1="212.6" x2="269.6" y2="223.3" stroke="#1a1a1a" stroke-width="0.7"/>
<path d="M307.8,185.4 A4.0,4.0 0 0 1 301.2,184.2" fill="none" stroke="#1a1a1a" stroke-width="0.8"/>
<line x1="272.2" y1="205.9" x2="275.1" y2="207.6" stroke="#1a1a1a" stroke-width="0.55"/>
<polygon points="266.4,208.2 269.9,206.4 274.7,209.3 271.2,211.1" fill="#fff" stroke="#1a1a1a" stroke-width="0.7"/>
<polygon points="297.1,190.2 299.2,189.1 302.6,191.2 300.5,192.3" fill="#fff" stroke="#1a1a1a" stroke-width="0.7"/>
<line x1="240.0" y1="183.0" x2="246.8" y2="187.1" stroke="#1a1a1a" stroke-width="0.7"/>
<line x1="325.8" y1="182.7" x2="329.5" y2="180.8" stroke="#1a1a1a" stroke-width="0.9"/>
<line x1="258.0" y1="161.4" x2="261.2" y2="159.8" stroke="#1a1a1a" stroke-width="0.7"/>
<line x1="316.0" y1="185.9" x2="316.0" y2="193.0" stroke="#1a1a1a" stroke-width="1.1"/>
<circle cx="273.6" cy="228.3" r="0.9" fill="#111"/>
<line x1="257.9" y1="214.4" x2="257.9" y2="224.5" stroke="#1a1a1a" stroke-width="0.55"/>
<ellipse cx="257.7" cy="172.8" rx="2.3" ry="2.7" fill="#fff" stroke="#1a1a1a" stroke-width="0.75"/>
<circle cx="257.7" cy="172.8" r="1.1" fill="none" stroke="#1a1a1a" stroke-width="0.6"/>
<circle cx="246.4" cy="184.1" r="1.3" fill="#111"/>
<path d="M262.5,205.6 A4.7,4.7 0 0 1 270.4,204.9" fill="none" stroke="#1a1a1a" stroke-width="0.8"/>
<line x1="271.4" y1="203.2" x2="271.4" y2="206.7" stroke="#1a1a1a" stroke-width="0.9"/>
<circle cx="269.8" cy="170.0" r="0.7" fill="#111"/>
<line x1="294.6" y1="200.7" x2="301.0" y2="204.6" stroke="#1a1a1a" stroke-width="0.9"/>
<ellipse cx="309.4" cy="152.9" rx="2.0" ry="2.4" fill="#fff" stroke="#1a1a1a" stroke-width="0.75"/>
<circle cx="309.4" cy="152.9" r="1.0" fill="none" stroke="#1a1a1a" stroke-width="0.6"/>
<line x1="278.9" y1="196.8" x2="286.4" y2="201.3" stroke="#1a1a1a" stroke-width="0.7"/>
<polygon points="317.2,159.9 321.0,158.0 323.4,161.8 319.5,163.8" fill="#fff" stroke="#1a1a1a" stroke-width="0.7"/>
<ellipse cx="289.6" cy="167.0" rx="1.9" ry="2.2" fill="#fff" stroke="#1a1a1a" stroke-width="0.75"/>
<circle cx="289.6" cy="167.0" r="0.9" fill="none" stroke="#1a1a1a" stroke-width="0.6"/>
<circle cx="303.8" cy="187.2" r="1.1" fill="#111"/>
<line x1="266.3" y1="212.4" x2="269.9" y2="210.5" stroke="#1a1a1a" stroke-width="0.9"/>
<line x1="323.5" y1="181.7" x2="323.5" y2="189.9" stroke="#1a1a1a" stroke-width="1.1"/>
<circle cx="286.1" cy="154.3" r="1.0" fill="#111"/>
<circle cx="288.7" cy="205.2" r="1.2" fill="#111"/>
<polygon points="279.8,169.5 283.8,167.5 284.9,169.2 280.8,171.2" fill="#fff" stroke="#1a1a1a" stroke-width="0.7"/>
<polygon points="258.4,191.0 263.6,188.4 266.5,190.2 261.2,192.8" fill="#fff" stroke="#1a1a1a" stroke-width="0.7"/>
<polygon points="280.7,184.6 284.1,182.9 287.1,187.9 283.7,189.6" fill="#fff" stroke="#1a1a1a" stroke-width="0.7"/>
<ellipse cx="273.7" cy="207.4" rx="1.7" ry="2.0" fill="#fff" stroke="#1a1a1a" stroke-width="0.75"/>
<circle cx="258.9" cy="181.2" r="0.9" fill="#111"/>
<polygon points="249.6,189.9 251.8,188.8 254.7,193.6 252.5,194.7" fill="#fff" stroke="#1a1a1a" stroke-width="0.7"/>
<path d="M301.2,196.9 A4.4,4.4 0 0 1 295.7,192.0" fill="none" stroke="#1a1a1a" stroke-width="0.8"/>
<line x1="279.1" y1="173.7" x2="279.1" y2="184.4" stroke="#1a1a1a" stroke-width="1.1"/>
<ellipse cx="296.1" cy="175.9" rx="2.5" ry="3.0" fill="#fff" stroke="#1a1a1a" stroke-width="0.75"/>
<circle cx="296.1" cy="175.9" r="1.2" fill="none" stroke="#1a1a1a" stroke-width="0.6"/>
<line x1="253.6" y1="201.8" x2="260.6" y2="198.3" stroke="#1a1a1a" stroke-width="0.9"/>
<line x1="312.3" y1="177.7" x2="312.3" y2="188.2" stroke="#1a1a1a" stroke-width="0.7"/>
<line x1="282.1" y1="212.2" x2="285.2" y2="214.0" stroke="#1a1a1a" stroke-width="0.7"/>
<line x1="271.8" y1="212.6" x2="279.7" y2="217.4" stroke="#1a1a1a" stroke-width="0.55"/>
<line x1="299.4" y1="179.5" x2="307.5" y2="184.3" stroke="#1a1a1a" stroke-width="0.7"/>
<ellipse cx="322.0" cy="183.2" rx="1.3" ry="1.6" fill="#fff" stroke="#1a1a1a" stroke-width="0.75"/>
<line x1="259.8" y1="182.4" x2="269.5" y2="177.5" stroke="#1a1a1a" stroke-width="0.55"/>
<polygon points="286.4,227.1 288.8,225.9 290.5,226.9 288.2,228.1" fill="#fff" stroke="#1a1a1a" stroke-width="0.7"/>
<line x1="260.1" y1="193.7" x2="260.1" y2="203.1" stroke="#1a1a1a" stroke-width="0.9"/>
<polygon points="252.8,192.3 256.1,190.7 258.1,194.0 254.8,195.7" fill="#fff" stroke="#1a1a1a" stroke-width="0.7"/>
<polygon points="297.4,159.7 300.1,158.4 302.3,162.0 299.6,163.4" fill="#fff" stroke="#1a1a1a" stroke-width="0.7"/>
<line x1="261.5" y1="173.1" x2="269.6" y2="169.1" stroke="#1a1a1a" stroke-width="0.55"/>
<ellipse cx="279.4" cy="227.1" rx="1.1" ry="1.3" fill="#fff" stroke="#1a1a1a" stroke-width="0.75"/>
<polygon points="286.0,186.3 290.8,183.9 294.7,186.2 289.9,188.7" fill="#fff" stroke="#1a1a1a" stroke-width="0.7"/>
<polygon points="275.5,192.1 278.6,190.6 281.1,194.8 278.0,196.3" fill="#fff" stroke="#1a1a1a" stroke-width="0.7"/>
<polygon points="301.7,186.3 304.5,184.9 306.4,188.0 303.6,189.4" fill="#fff" stroke="#1a1a1a" stroke-width="0.7"/>
<path d="M268.8,155.3 A2.5,2.5 0 0 1 270.9,158.9" fill="none" stroke="#1a1a1a" stroke-width="0.8"/>
<path d="M239.3,166.7 A4.7,4.7 0 0 1 245.1,161.3" fill="none" stroke="#1a1a1a" stroke-width="0.8"/>
<line x1="239.7" y1="179.5" x2="239.7" y2="189.3" stroke="#1a1a1a" stroke-width="0.9"/>
<polygon points="275.3,191.2 278.7,189.4 281.8,191.3 278.4,193.0" fill="#fff" stroke="#1a1a1a" stroke-width="0.7"/>
<polygon points="306.8,176.6 309.4,175.3 310.4,176.9 307.8,178.2" fill="#fff" stroke="#1a1a1a" stroke-width="0.7"/>
<path d="M238.6,188.5 A4.5,4.5 0 0 1 231.5,191.4" fill="none" stroke="#1a1a1a" stroke-width="0.8"/>
<line x1="261.4" y1="181.3" x2="264.5" y2="179.7" stroke="#1a1a1a" stroke-width="1.1"/>
<line x1="276.1" y1="225.8" x2="280.2" y2="223.7" stroke="#1a1a1a" stroke-width="1.1"/>
<ellipse cx="261.3" cy="226.1" rx="1.4" ry="1.7" fill="#fff" stroke="#1a1a1a" stroke-width="0.75"/>
<polygon points="277.0,179.8 282.1,177.2 284.6,178.6 279.4,181.2" fill="#fff" stroke="#1a1a1a" stroke-width="0.7"/>
<line x1="238.9" y1="173.9" x2="238.9" y2="182.3" stroke="#1a1a1a" stroke-width="0.7"/>
<circle cx="235.1" cy="186.5" r="0.7" fill="#111"/>
<circle cx="259.0" cy="242.2" r="1.0" fill="#111"/>
<line x1="272.8" y1="186.1" x2="272.8" y2="191.9" stroke="#1a1a1a" stroke-width="0.7"/>
<line x1="282.5" y1="226.8" x2="288.8" y2="230.6" stroke="#1a1a1a" stroke-width="1.1"/>
<line x1="267.4" y1="191.1" x2="267.4" y2="198.0" stroke="#1a1a1a" stroke-width="1.1"/>
<circle cx="243.1" cy="166.6" r="1.2" fill="#111"/>
<line x1="243.7" y1="186.9" x2="243.7" y2="195.2" stroke="#1a1a1a" stroke-width="0.55"/>
<polygon points="264.5,224.1 269.7,221.6 274.1,224.2 269.0,226.8" fill="#fff" stroke="#1a1a1a" stroke-width="0.7"/>
<polygon points="278.1,199.7 282.2,197.7 286.5,200.3 282.4,202.4" fill="#fff" stroke="#1a1a1a" stroke-width="0.7"/>
<path d="M277.3,181.1 A2.5,2.5 0 0 1 281.5,180.3" fill="none" stroke="#1a1a1a" stroke-width="0.8"/>
<line x1="281.2" y1="222.4" x2="283.9" y2="223.9" stroke="#1a1a1a" stroke-width="0.7"/>
<ellipse cx="327.8" cy="182.4" rx="2.3" ry="2.7" fill="#fff" stroke="#1a1a1a" stroke-width="0.75"/>
<circle cx="327.8" cy="182.4" r="1.1" fill="none" stroke="#1a1a1a" stroke-width="0.6"/>
<polygon points="278.1,244.2 282.9,241.8 284.0,243.6 279.2,246.0" fill="#fff" stroke="#1a1a1a" stroke-width="0.7"/>
<polygon points="291.7,182.7 296.9,180.1 298.8,181.3 293.6,183.9" fill="#fff" stroke="#1a1a1a" stroke-width="0.7"/>
<line x1="284.2" y1="198.8" x2="293.3" y2="204.2" stroke="#1a1a1a" stroke-width="0.7"/>
<polygon points="306.4,162.2 311.2,159.8 313.5,163.6 308.7,166.0" fill="#fff" stroke="#1a1a1a" stroke-width="0.7"/>
<path d="M304.7,152.8 A4.9,4.9 0 0 1 299.7,159.3" fill="none" stroke="#1a1a1a" stroke-width="0.8"/>
<line x1="288.0" y1="189.8" x2="288.0" y2="197.4" stroke="#1a1a1a" stroke-width="0.7"/>
<ellipse cx="301.2" cy="176.3" rx="1.1" ry="1.3" fill="#fff" stroke="#1a1a1a" stroke-width="0.75"/>
<circle cx="309.0" cy="194.6" r="1.5" fill="#111"/>
<ellipse cx="276.4" cy="215.7" rx="2.1" ry="2.5" fill="#fff" stroke="#1a1a1a" stroke-width="0.75"/>
<circle cx="276.4" cy="215.7" r="1.0" fill="none" stroke="#1a1a1a" stroke-width="0.6"/>
<line x1="267.3" y1="211.6" x2="274.8" y2="216.1" stroke="#1a1a1a" stroke-width="1.1"/>
<ellipse cx="250.5" cy="186.6" rx="2.6" ry="3.0" fill="#fff" stroke="#1a1a1a" stroke-width="0.75"/>
<circle cx="250.5" cy="186.6" r="1.2" fill="none" stroke="#1a1a1a" stroke-width="0.6"/>
<line x1="265.7" y1="178.0" x2="265.7" y2="188.9" stroke="#1a1a1a" stroke-width="0.55"/>
<line x1="328.2" y1="184.4" x2="337.0" y2="189.8" stroke="#1a1a1a" stroke-width="0.55"/>
<line x1="256.6" y1="217.4" x2="264.3" y2="222.0" stroke="#1a1a1a" stroke-width="0.55"/>
<ellipse cx="285.2" cy="186.7" rx="1.5" ry="1.7" fill="#fff" stroke="#1a1a1a" stroke-width="0.75"/>
<line x1="305.2" y1="180.1" x2="314.3" y2="185.5" stroke="#1a1a1a" stroke-width="0.7"/>
<line x1="283.7" y1="170.1" x2="291.6" y2="166.1" stroke="#1a1a1a" stroke-width="0.55"/>
<line x1="254.9" y1="164.4" x2="254.9" y2="170.9" stroke="#1a1a1a" stroke-width="0.7"/>
<line x1="254.1" y1="232.3" x2="254.1" y2="241.8" stroke="#1a1a1a" stroke-width="1.1"/>
<line x1="282.1" y1="190.0" x2="282.1" y2="195.1" stroke="#1a1a1a" stroke-width="0.55"/>
<ellipse cx="305.7" cy="176.9" rx="1.9" ry="2.3" fill="#fff" stroke="#1a1a1a" stroke-width="0.75"/>
<circle cx="305.7" cy="176.9" r="0.9" fill="none" stroke="#1a1a1a" stroke-width="0.6"/>
<line x1="272.6" y1="198.9" x2="279.9" y2="203.3" stroke="#1a1a1a" stroke-width="0.9"/>
<line x1="265.2" y1="226.4" x2="274.5" y2="221.7" stroke="#1a1a1a" stroke-width="0.55"/>
<line x1="259.0" y1="166.1" x2="267.8" y2="161.8" stroke="#1a1a1a" stroke-width="0.7"/>
<line x1="281.8" y1="187.0" x2="286.5" y2="189.8" stroke="#1a1a1a" stroke-width="0.7"/>
<path d="M230.3,183.4 A2.2,2.2 0 0 1 229.2,179.9" fill="none" stroke="#1a1a1a" stroke-width="0.8"/>
<circle cx="317.9" cy="169.4" r="0.9" fill="#111"/>
<line x1="270.2" y1="228.8" x2="270.2" y2="234.8" stroke="#1a1a1a" stroke-width="0.7"/>
<line x1="294.7" y1="193.4" x2="294.7" y2="196.5" stroke="#1a1a1a" stroke-width="0.9"/>
<path d="M320.1,190.7 A4.5,4.5 0 0 1 320.7,198.3" fill="none" stroke="#1a1a1a" stroke-width="0.8"/>
<line x1="317.7" y1="164.2" x2="323.5" y2="161.3" stroke="#1a1a1a" stroke-width="1.1"/>
<circle cx="258.3" cy="188.3" r="1.5" fill="#111"/>
<path d="M298.1,149.9 A3.5,3.5 0 0 1 292.5,147.9" fill="none" stroke="#1a1a1a" stroke-width="0.8"/>
<circle cx="234.2" cy="186.8" r="1.3" fill="#111"/>
<line x1="323.2" y1="191.2" x2="332.6" y2="186.5" stroke="#1a1a1a" stroke-width="0.55"/>
<line x1="290.5" y1="185.7" x2="298.0" y2="190.2" stroke="#1a1a1a" stroke-width="0.7"/>
<polygon points="273.9,155.4 279.3,152.6 281.4,156.1 275.9,158.8" fill="#fff" stroke="#1a1a1a" stroke-width="0.7"/>
<polygon points="256.8,234.0 261.4,231.7 263.6,235.5 259.0,237.7" fill="#fff" stroke="#1a1a1a" stroke-width="0.7"/>
<circle cx="248.0" cy="188.3" r="1.5" fill="#111"/>
<path d="M290.0,188.3 A2.6,2.6 0 0 1 286.7,185.4" fill="none" stroke="#1a1a1a" stroke-width="0.8"/>
<path d="M290.5,171.8 A4.2,4.2 0 0 1 287.8,165.2" fill="none" stroke="#1a1a1a" stroke-width="0.8"/>
</g>
<path class="fw" d="M233.6,194.3 L268,213 L268,240 L258,242 L252,238 L246,222 L236.5,198.6 Z" />
<polyline class="ln" points="236.5,198.6 266.5,217.2" />
<polyline class="gry" points="240.0,205.0 268.0,221.0" />
<polyline class="ln" points="246.5,213.0 268.0,225.0" />
<polyline class="ln" points="248.0,227.3 268.0,238.0" />
<line class="ln" x1="257.0" y1="208.0" x2="258.0" y2="240.0"/>
<line class="gry" x1="262.0" y1="211.0" x2="263.0" y2="240.0"/>
<ellipse class="fw" cx="246.5" cy="203.6" rx="4.3" ry="3.6" transform="rotate(-20 246.5 203.6)" />
<ellipse class="ln" cx="246.5" cy="203.6" rx="2.4" ry="2" transform="rotate(-20 246.5 203.6)" />
<ellipse class="ln" cx="246.5" cy="203.6" rx="1" ry="0.9" transform="rotate(-20 246.5 203.6)" />
<ellipse class="fw" cx="258.0" cy="213.7" rx="3" ry="2.6" transform="rotate(-20 258.0 213.7)" />
<ellipse class="ln" cx="258.0" cy="213.7" rx="1.4" ry="1.2" transform="rotate(-20 258.0 213.7)" />
<ellipse cx="253.7" cy="233" rx="3.2" ry="3.8" transform="rotate(-20 253.7 233)" fill="#222"/>
<ellipse class="lnw" cx="253.9" cy="233.2" rx="1.8" ry="2.3" transform="rotate(-20 253.9 233.2)" />
<path class="fw" d="M212.6,201 Q222,193 239.3,195.8 Q248,199 250.8,215 L252,228 Q255,236 258,240.2 Q252,249 240,251.4 Q222,249 214,238 Q209,228 210.8,215 Z" style="stroke-width:1.0"/>
<ellipse class="ln" cx="231.0" cy="222.5" rx="16.5" ry="22" transform="rotate(-15 231.0 222.5)" />
<line x1="235.8" y1="223.0" x2="245.4" y2="224.2" stroke="#1a1a1a" stroke-width="1.25" stroke-linecap="round"/>
<line x1="235.2" y1="225.2" x2="243.7" y2="231.7" stroke="#1a1a1a" stroke-width="1.25" stroke-linecap="round"/>
<line x1="233.9" y1="226.9" x2="239.7" y2="237.7" stroke="#1a1a1a" stroke-width="1.25" stroke-linecap="round"/>
<line x1="232.1" y1="227.9" x2="234.3" y2="241.0" stroke="#1a1a1a" stroke-width="1.25" stroke-linecap="round"/>
<line x1="230.1" y1="227.9" x2="228.2" y2="241.2" stroke="#1a1a1a" stroke-width="1.25" stroke-linecap="round"/>
<line x1="228.2" y1="227.0" x2="222.7" y2="238.1" stroke="#1a1a1a" stroke-width="1.25" stroke-linecap="round"/>
<line x1="226.9" y1="225.3" x2="218.6" y2="232.3" stroke="#1a1a1a" stroke-width="1.25" stroke-linecap="round"/>
<line x1="226.2" y1="223.2" x2="216.6" y2="224.8" stroke="#1a1a1a" stroke-width="1.25" stroke-linecap="round"/>
<line x1="226.4" y1="220.9" x2="217.1" y2="216.9" stroke="#1a1a1a" stroke-width="1.25" stroke-linecap="round"/>
<line x1="227.4" y1="218.9" x2="220.1" y2="210.0" stroke="#1a1a1a" stroke-width="1.25" stroke-linecap="round"/>
<line x1="229.0" y1="217.5" x2="224.9" y2="205.3" stroke="#1a1a1a" stroke-width="1.25" stroke-linecap="round"/>
<line x1="230.9" y1="217.0" x2="230.7" y2="203.5" stroke="#1a1a1a" stroke-width="1.25" stroke-linecap="round"/>
<line x1="232.9" y1="217.4" x2="236.7" y2="205.0" stroke="#1a1a1a" stroke-width="1.25" stroke-linecap="round"/>
<line x1="234.5" y1="218.7" x2="241.6" y2="209.5" stroke="#1a1a1a" stroke-width="1.25" stroke-linecap="round"/>
<line x1="235.5" y1="220.7" x2="244.7" y2="216.3" stroke="#1a1a1a" stroke-width="1.25" stroke-linecap="round"/>
<path class="fw" d="M221,226 L234,219 L237,224 L224,231 Z" />
<ellipse class="lnw" cx="222.5" cy="228.5" rx="2" ry="3.2" transform="rotate(-30 222.5 228.5)" />
<circle class="ln" cx="214.0" cy="205.0" r="0.9" />
<circle class="ln" cx="236.0" cy="194.5" r="0.9" />
<circle class="ln" cx="249.0" cy="204.0" r="0.9" />
<circle class="ln" cx="251.0" cy="224.0" r="0.9" />
<circle class="ln" cx="256.0" cy="238.0" r="0.9" />
<circle class="ln" cx="240.0" cy="250.0" r="0.9" />
<circle class="ln" cx="226.0" cy="248.0" r="0.9" />
<circle class="ln" cx="213.0" cy="232.0" r="0.9" />
<path class="fw" d="M193,206 L197,200 L206,199 L210,205 L209,217 L200,221 L194,217 Z" />
<ellipse class="ln" cx="200.4" cy="210.0" rx="6.8" ry="8.2" transform="rotate(-25 200.4 210.0)" />
<ellipse class="ln" cx="200.8" cy="210.5" rx="4.5" ry="5.5" transform="rotate(-25 200.8 210.5)" />
<ellipse class="ln" cx="201.0" cy="211.0" rx="2" ry="2.5" transform="rotate(-25 201.0 211.0)" />
<circle class="ln" cx="195.5" cy="204.0" r="0.9" />
<path class="fw" d="M270,229 L284,226 L290,232 L290,246 L286,249 L272,249 L268,243 Z" />
<ellipse class="ln" cx="278.5" cy="237.0" rx="6.8" ry="8" transform="rotate(-20 278.5 237.0)" />
<ellipse class="ln" cx="279.0" cy="237.5" rx="4.5" ry="5.5" transform="rotate(-20 279.0 237.5)" />
<ellipse class="lnk" cx="279.2" cy="238.0" rx="2" ry="2.5" transform="rotate(-20 279.2 238.0)" />
<circle class="ln" cx="287.5" cy="246.0" r="0.9" />
<ellipse class="fw" cx="279.5" cy="217.6" rx="6.5" ry="8" transform="rotate(-20 279.5 217.6)" />
<ellipse class="ln" cx="279.8" cy="218.0" rx="4" ry="5.5" transform="rotate(-20 279.8 218.0)" />
<g clip-path="url(#engclip)">
<line x1="254.6" y1="212.4" x2="262.8" y2="208.3" stroke="#1a1a1a" stroke-width="0.7"/>
<circle cx="253.4" cy="211.9" r="1.3" fill="#111"/>
<polygon points="288.6,216.0 292.8,213.8 294.2,216.2 290.0,218.3" fill="#fff" stroke="#1a1a1a" stroke-width="0.7"/>
<line x1="288.1" y1="226.0" x2="295.9" y2="230.7" stroke="#1a1a1a" stroke-width="1.1"/>
<line x1="254.3" y1="219.8" x2="254.3" y2="230.8" stroke="#1a1a1a" stroke-width="0.9"/>
<line x1="255.3" y1="238.6" x2="265.1" y2="233.7" stroke="#1a1a1a" stroke-width="1.1"/>
<path d="M257.4,226.1 A4.6,4.6 0 0 1 249.8,225.2" fill="none" stroke="#1a1a1a" stroke-width="0.8"/>
<polygon points="284.9,220.0 289.0,218.0 291.8,219.7 287.7,221.7" fill="#fff" stroke="#1a1a1a" stroke-width="0.7"/>
<ellipse cx="259.8" cy="221.5" rx="1.8" ry="2.1" fill="#fff" stroke="#1a1a1a" stroke-width="0.75"/>
<circle cx="259.8" cy="221.5" r="0.8" fill="none" stroke="#1a1a1a" stroke-width="0.6"/>
<polygon points="258.1,228.3 261.7,226.5 265.5,228.7 261.8,230.5" fill="#fff" stroke="#1a1a1a" stroke-width="0.7"/>
<line x1="258.1" y1="211.3" x2="264.8" y2="215.3" stroke="#1a1a1a" stroke-width="1.1"/>
<polygon points="271.8,215.9 275.0,214.3 276.3,216.6 273.2,218.1" fill="#fff" stroke="#1a1a1a" stroke-width="0.7"/>
<line x1="286.9" y1="228.0" x2="295.3" y2="223.9" stroke="#1a1a1a" stroke-width="0.9"/>
<path d="M289.0,206.7 A4.7,4.7 0 0 1 286.0,214.0" fill="none" stroke="#1a1a1a" stroke-width="0.8"/>
<ellipse cx="263.3" cy="222.8" rx="2.6" ry="3.0" fill="#fff" stroke="#1a1a1a" stroke-width="0.75"/>
<circle cx="263.3" cy="222.8" r="1.2" fill="none" stroke="#1a1a1a" stroke-width="0.6"/>
<path d="M274.9,222.7 A3.8,3.8 0 0 1 280.8,225.3" fill="none" stroke="#1a1a1a" stroke-width="0.8"/>
<line x1="285.0" y1="223.9" x2="292.2" y2="228.2" stroke="#1a1a1a" stroke-width="0.55"/>
<line x1="273.1" y1="223.8" x2="275.9" y2="225.5" stroke="#1a1a1a" stroke-width="1.1"/>
<line x1="285.3" y1="224.9" x2="294.6" y2="220.2" stroke="#1a1a1a" stroke-width="1.1"/>
<polygon points="287.6,222.1 291.5,220.1 293.6,221.4 289.7,223.3" fill="#fff" stroke="#1a1a1a" stroke-width="0.7"/>
<line x1="276.0" y1="216.0" x2="282.4" y2="219.9" stroke="#1a1a1a" stroke-width="1.1"/>
<line x1="272.0" y1="213.1" x2="272.0" y2="221.5" stroke="#1a1a1a" stroke-width="1.1"/>
<polygon points="291.1,224.0 296.5,221.3 298.4,224.3 293.0,227.0" fill="#fff" stroke="#1a1a1a" stroke-width="0.7"/>
<line x1="281.8" y1="226.9" x2="288.0" y2="223.9" stroke="#1a1a1a" stroke-width="1.1"/>
<line x1="278.7" y1="212.4" x2="282.3" y2="214.6" stroke="#1a1a1a" stroke-width="0.55"/>
<polygon points="261.7,222.1 264.5,220.7 267.5,225.7 264.7,227.1" fill="#fff" stroke="#1a1a1a" stroke-width="0.7"/>
<line x1="282.3" y1="220.8" x2="282.3" y2="226.9" stroke="#1a1a1a" stroke-width="0.9"/>
<path d="M285.8,215.7 A3.0,3.0 0 0 1 286.1,210.6" fill="none" stroke="#1a1a1a" stroke-width="0.8"/>
<line x1="272.1" y1="221.1" x2="276.1" y2="223.5" stroke="#1a1a1a" stroke-width="0.55"/>
<line x1="255.3" y1="226.5" x2="260.8" y2="223.7" stroke="#1a1a1a" stroke-width="0.7"/>
<line x1="263.8" y1="229.6" x2="271.1" y2="233.9" stroke="#1a1a1a" stroke-width="0.55"/>
<path d="M277.3,216.0 A3.5,3.5 0 0 1 280.9,211.4" fill="none" stroke="#1a1a1a" stroke-width="0.8"/>
<line x1="268.7" y1="224.7" x2="277.7" y2="220.2" stroke="#1a1a1a" stroke-width="0.7"/>
<line x1="263.6" y1="229.6" x2="269.3" y2="226.8" stroke="#1a1a1a" stroke-width="0.55"/>
<polygon points="253.3,220.9 256.2,219.5 257.4,221.5 254.5,223.0" fill="#fff" stroke="#1a1a1a" stroke-width="0.7"/>
<line x1="271.7" y1="225.8" x2="271.7" y2="235.3" stroke="#1a1a1a" stroke-width="0.55"/>
<polygon points="253.2,223.3 256.7,221.5 261.0,224.0 257.4,225.8" fill="#fff" stroke="#1a1a1a" stroke-width="0.7"/>
<line x1="281.9" y1="212.2" x2="289.3" y2="216.7" stroke="#1a1a1a" stroke-width="1.1"/>
<line x1="288.9" y1="217.4" x2="288.9" y2="224.1" stroke="#1a1a1a" stroke-width="0.55"/>
<polygon points="272.1,215.9 274.3,214.8 276.3,218.1 274.1,219.1" fill="#fff" stroke="#1a1a1a" stroke-width="0.7"/>
<polygon points="255.5,236.7 261.3,233.7 262.3,235.3 256.4,238.3" fill="#fff" stroke="#1a1a1a" stroke-width="0.7"/>
<polygon points="267.6,224.0 270.7,222.4 273.5,227.2 270.4,228.7" fill="#fff" stroke="#1a1a1a" stroke-width="0.7"/>
<line x1="266.4" y1="223.4" x2="266.4" y2="234.2" stroke="#1a1a1a" stroke-width="1.1"/>
<line x1="257.1" y1="212.6" x2="265.2" y2="217.4" stroke="#1a1a1a" stroke-width="0.7"/>
<line x1="253.9" y1="211.0" x2="259.7" y2="214.5" stroke="#1a1a1a" stroke-width="1.1"/>
<line x1="286.4" y1="223.6" x2="292.5" y2="227.3" stroke="#1a1a1a" stroke-width="0.55"/>
<polygon points="259.3,213.3 263.9,211.0 267.1,212.9 262.5,215.3" fill="#fff" stroke="#1a1a1a" stroke-width="0.7"/>
<ellipse cx="257.2" cy="235.2" rx="1.4" ry="1.6" fill="#fff" stroke="#1a1a1a" stroke-width="0.75"/>
<ellipse cx="259.3" cy="235.8" rx="2.3" ry="2.7" fill="#fff" stroke="#1a1a1a" stroke-width="0.75"/>
<circle cx="259.3" cy="235.8" r="1.1" fill="none" stroke="#1a1a1a" stroke-width="0.6"/>
<ellipse cx="289.8" cy="221.0" rx="1.7" ry="1.9" fill="#fff" stroke="#1a1a1a" stroke-width="0.75"/>
<ellipse cx="288.6" cy="225.0" rx="1.8" ry="2.1" fill="#fff" stroke="#1a1a1a" stroke-width="0.75"/>
<circle cx="288.6" cy="225.0" r="0.9" fill="none" stroke="#1a1a1a" stroke-width="0.6"/>
<line x1="277.0" y1="216.9" x2="281.3" y2="219.5" stroke="#1a1a1a" stroke-width="0.9"/>
<line x1="254.1" y1="226.2" x2="254.1" y2="235.4" stroke="#1a1a1a" stroke-width="1.1"/>
<line x1="252.3" y1="232.1" x2="252.3" y2="241.1" stroke="#1a1a1a" stroke-width="0.55"/>
<line x1="282.4" y1="224.2" x2="290.1" y2="228.8" stroke="#1a1a1a" stroke-width="0.55"/>
<line x1="283.3" y1="221.0" x2="283.3" y2="229.9" stroke="#1a1a1a" stroke-width="0.55"/>
<line x1="280.1" y1="227.9" x2="280.1" y2="235.6" stroke="#1a1a1a" stroke-width="1.1"/>
<circle cx="254.5" cy="225.3" r="0.9" fill="#111"/>
<path d="M280.5,214.4 A3.2,3.2 0 0 1 282.1,219.5" fill="none" stroke="#1a1a1a" stroke-width="0.8"/>
<line x1="274.8" y1="227.3" x2="283.1" y2="232.2" stroke="#1a1a1a" stroke-width="0.9"/>
<line x1="278.4" y1="223.0" x2="286.5" y2="227.9" stroke="#1a1a1a" stroke-width="0.9"/>
<line x1="260.4" y1="234.7" x2="260.4" y2="244.6" stroke="#1a1a1a" stroke-width="0.9"/>
<line x1="274.3" y1="226.3" x2="274.3" y2="231.6" stroke="#1a1a1a" stroke-width="0.9"/>
<line x1="276.7" y1="218.6" x2="280.8" y2="221.1" stroke="#1a1a1a" stroke-width="0.55"/>
<path d="M257.6,243.1 A4.9,4.9 0 0 1 251.0,238.0" fill="none" stroke="#1a1a1a" stroke-width="0.8"/>
<line x1="261.3" y1="227.8" x2="261.3" y2="236.9" stroke="#1a1a1a" stroke-width="1.1"/>
<ellipse cx="252.5" cy="214.6" rx="2.5" ry="2.9" fill="#fff" stroke="#1a1a1a" stroke-width="0.75"/>
<circle cx="252.5" cy="214.6" r="1.2" fill="none" stroke="#1a1a1a" stroke-width="0.6"/>
<line x1="266.2" y1="218.2" x2="266.2" y2="224.6" stroke="#1a1a1a" stroke-width="1.1"/>
<path d="M262.8,221.1 A2.7,2.7 0 0 1 264.0,225.5" fill="none" stroke="#1a1a1a" stroke-width="0.8"/>
<line x1="288.0" y1="212.1" x2="293.1" y2="209.5" stroke="#1a1a1a" stroke-width="0.7"/>
<line x1="257.6" y1="230.0" x2="263.2" y2="233.4" stroke="#1a1a1a" stroke-width="0.7"/>
<polygon points="259.5,231.0 262.0,229.8 264.2,231.1 261.7,232.3" fill="#fff" stroke="#1a1a1a" stroke-width="0.7"/>
<polygon points="264.4,229.7 269.9,226.9 271.9,230.2 266.3,233.0" fill="#fff" stroke="#1a1a1a" stroke-width="0.7"/>
<ellipse cx="259.3" cy="219.1" rx="1.4" ry="1.6" fill="#fff" stroke="#1a1a1a" stroke-width="0.75"/>
<line x1="272.1" y1="218.8" x2="272.1" y2="226.5" stroke="#1a1a1a" stroke-width="1.1"/>
<polygon points="289.4,214.9 292.5,213.4 295.4,218.4 292.4,219.9" fill="#fff" stroke="#1a1a1a" stroke-width="0.7"/>
<polygon points="287.4,221.8 292.6,219.2 293.8,221.2 288.6,223.8" fill="#fff" stroke="#1a1a1a" stroke-width="0.7"/>
<polygon points="263.8,229.4 267.6,227.6 270.9,229.6 267.2,231.4" fill="#fff" stroke="#1a1a1a" stroke-width="0.7"/>
<path d="M258.5,224.2 A2.7,2.7 0 0 1 255.9,220.6" fill="none" stroke="#1a1a1a" stroke-width="0.8"/>
<polygon points="289.5,217.8 291.8,216.6 296.3,219.3 294.0,220.4" fill="#fff" stroke="#1a1a1a" stroke-width="0.7"/>
<circle cx="274.6" cy="222.4" r="1.1" fill="#111"/>
<circle cx="265.0" cy="228.4" r="1.0" fill="#111"/>
<path d="M270.2,221.1 A3.9,3.9 0 0 1 270.5,214.6" fill="none" stroke="#1a1a1a" stroke-width="0.8"/>
<polygon points="259.3,211.5 263.3,209.6 265.4,213.1 261.5,215.1" fill="#fff" stroke="#1a1a1a" stroke-width="0.7"/>
<ellipse cx="268.5" cy="225.5" rx="2.7" ry="3.1" fill="#fff" stroke="#1a1a1a" stroke-width="0.75"/>
<circle cx="268.5" cy="225.5" r="1.3" fill="none" stroke="#1a1a1a" stroke-width="0.6"/>
<path d="M284.7,228.7 A2.6,2.6 0 0 1 280.9,230.8" fill="none" stroke="#1a1a1a" stroke-width="0.8"/>
<line x1="283.9" y1="213.9" x2="288.2" y2="211.8" stroke="#1a1a1a" stroke-width="0.9"/>
<ellipse cx="287.4" cy="213.7" rx="2.1" ry="2.5" fill="#fff" stroke="#1a1a1a" stroke-width="0.75"/>
<circle cx="287.4" cy="213.7" r="1.0" fill="none" stroke="#1a1a1a" stroke-width="0.6"/>
<ellipse cx="278.7" cy="225.1" rx="0.9" ry="1.1" fill="#fff" stroke="#1a1a1a" stroke-width="0.75"/>
<line x1="253.9" y1="220.6" x2="253.9" y2="226.9" stroke="#1a1a1a" stroke-width="0.7"/>
</g>
<g clip-path="url(#engclip)">
<line x1="298.6" y1="172.4" x2="303.2" y2="170.1" stroke="#1a1a1a" stroke-width="1.1"/>
<line x1="311.9" y1="160.3" x2="311.9" y2="168.0" stroke="#1a1a1a" stroke-width="0.55"/>
<circle cx="298.4" cy="179.5" r="1.5" fill="#111"/>
<ellipse cx="309.7" cy="168.1" rx="1.2" ry="1.4" fill="#fff" stroke="#1a1a1a" stroke-width="0.75"/>
<line x1="298.7" y1="156.3" x2="304.1" y2="153.6" stroke="#1a1a1a" stroke-width="0.55"/>
<ellipse cx="312.4" cy="163.9" rx="2.3" ry="2.7" fill="#fff" stroke="#1a1a1a" stroke-width="0.75"/>
<circle cx="312.4" cy="163.9" r="1.1" fill="none" stroke="#1a1a1a" stroke-width="0.6"/>
<polygon points="310.8,160.0 312.9,158.9 317.8,161.9 315.7,162.9" fill="#fff" stroke="#1a1a1a" stroke-width="0.7"/>
<line x1="297.0" y1="161.9" x2="297.0" y2="172.3" stroke="#1a1a1a" stroke-width="0.55"/>
<line x1="295.6" y1="159.6" x2="303.7" y2="155.6" stroke="#1a1a1a" stroke-width="0.7"/>
<line x1="293.9" y1="170.3" x2="300.2" y2="167.1" stroke="#1a1a1a" stroke-width="1.1"/>
<polygon points="316.3,166.9 319.1,165.5 321.4,166.9 318.7,168.3" fill="#fff" stroke="#1a1a1a" stroke-width="0.7"/>
<line x1="297.1" y1="171.4" x2="306.1" y2="167.0" stroke="#1a1a1a" stroke-width="1.1"/>
<ellipse cx="298.4" cy="167.5" rx="2.3" ry="2.7" fill="#fff" stroke="#1a1a1a" stroke-width="0.75"/>
<circle cx="298.4" cy="167.5" r="1.1" fill="none" stroke="#1a1a1a" stroke-width="0.6"/>
<line x1="317.6" y1="161.4" x2="321.4" y2="159.5" stroke="#1a1a1a" stroke-width="0.55"/>
<line x1="312.0" y1="167.7" x2="319.7" y2="172.3" stroke="#1a1a1a" stroke-width="0.9"/>
<line x1="306.9" y1="153.0" x2="312.2" y2="150.4" stroke="#1a1a1a" stroke-width="0.9"/>
<line x1="300.2" y1="158.6" x2="309.9" y2="153.8" stroke="#1a1a1a" stroke-width="0.9"/>
<path d="M306.3,180.1 A3.4,3.4 0 0 1 301.8,183.7" fill="none" stroke="#1a1a1a" stroke-width="0.8"/>
<ellipse cx="295.0" cy="166.6" rx="2.1" ry="2.4" fill="#fff" stroke="#1a1a1a" stroke-width="0.75"/>
<circle cx="295.0" cy="166.6" r="1.0" fill="none" stroke="#1a1a1a" stroke-width="0.6"/>
<circle cx="297.7" cy="150.3" r="1.4" fill="#111"/>
<circle cx="298.7" cy="153.5" r="1.0" fill="#111"/>
<circle cx="308.6" cy="152.6" r="0.9" fill="#111"/>
<line x1="312.6" y1="169.9" x2="317.5" y2="167.4" stroke="#1a1a1a" stroke-width="0.7"/>
<ellipse cx="312.2" cy="177.8" rx="2.5" ry="2.9" fill="#fff" stroke="#1a1a1a" stroke-width="0.75"/>
<circle cx="312.2" cy="177.8" r="1.2" fill="none" stroke="#1a1a1a" stroke-width="0.6"/>
<line x1="298.6" y1="179.9" x2="298.6" y2="185.3" stroke="#1a1a1a" stroke-width="1.1"/>
<line x1="313.2" y1="171.4" x2="313.2" y2="175.1" stroke="#1a1a1a" stroke-width="0.55"/>
<ellipse cx="311.6" cy="162.5" rx="0.9" ry="1.1" fill="#fff" stroke="#1a1a1a" stroke-width="0.75"/>
<path d="M307.4,160.5 A2.1,2.1 0 0 1 305.6,163.5" fill="none" stroke="#1a1a1a" stroke-width="0.8"/>
<polygon points="308.3,153.7 312.9,151.4 314.4,152.4 309.8,154.7" fill="#fff" stroke="#1a1a1a" stroke-width="0.7"/>
<line x1="312.1" y1="167.4" x2="319.1" y2="163.9" stroke="#1a1a1a" stroke-width="1.1"/>
<line x1="317.0" y1="159.2" x2="322.7" y2="162.6" stroke="#1a1a1a" stroke-width="0.7"/>
<polygon points="301.6,168.8 303.9,167.7 306.2,171.5 303.9,172.7" fill="#fff" stroke="#1a1a1a" stroke-width="0.7"/>
<line x1="316.8" y1="164.4" x2="316.8" y2="174.0" stroke="#1a1a1a" stroke-width="0.55"/>
<path d="M298.5,160.0 A2.8,2.8 0 0 1 303.1,159.7" fill="none" stroke="#1a1a1a" stroke-width="0.8"/>
<ellipse cx="297.5" cy="168.2" rx="1.3" ry="1.5" fill="#fff" stroke="#1a1a1a" stroke-width="0.75"/>
<line x1="296.2" y1="157.3" x2="299.8" y2="159.4" stroke="#1a1a1a" stroke-width="0.9"/>
<path d="M315.5,172.8 A2.2,2.2 0 0 1 319.1,172.2" fill="none" stroke="#1a1a1a" stroke-width="0.8"/>
<line x1="303.4" y1="183.0" x2="303.4" y2="188.6" stroke="#1a1a1a" stroke-width="0.7"/>
<line x1="293.9" y1="169.6" x2="297.3" y2="167.9" stroke="#1a1a1a" stroke-width="0.9"/>
<polygon points="313.1,163.6 315.6,162.3 317.9,166.0 315.4,167.2" fill="#fff" stroke="#1a1a1a" stroke-width="0.7"/>
<circle cx="302.9" cy="168.6" r="1.4" fill="#111"/>
<ellipse cx="313.0" cy="174.5" rx="2.0" ry="2.3" fill="#fff" stroke="#1a1a1a" stroke-width="0.75"/>
<circle cx="313.0" cy="174.5" r="0.9" fill="none" stroke="#1a1a1a" stroke-width="0.6"/>
<ellipse cx="296.1" cy="158.3" rx="2.0" ry="2.3" fill="#fff" stroke="#1a1a1a" stroke-width="0.75"/>
<circle cx="296.1" cy="158.3" r="0.9" fill="none" stroke="#1a1a1a" stroke-width="0.6"/>
<line x1="307.7" y1="151.4" x2="311.4" y2="149.6" stroke="#1a1a1a" stroke-width="0.9"/>
<line x1="295.6" y1="170.9" x2="295.6" y2="174.2" stroke="#1a1a1a" stroke-width="0.9"/>
<line x1="309.1" y1="148.0" x2="316.6" y2="144.3" stroke="#1a1a1a" stroke-width="0.9"/>
<ellipse cx="311.2" cy="160.9" rx="1.2" ry="1.4" fill="#fff" stroke="#1a1a1a" stroke-width="0.75"/>
<ellipse cx="303.1" cy="169.1" rx="2.6" ry="3.0" fill="#fff" stroke="#1a1a1a" stroke-width="0.75"/>
<circle cx="303.1" cy="169.1" r="1.2" fill="none" stroke="#1a1a1a" stroke-width="0.6"/>
<ellipse cx="302.1" cy="169.5" rx="1.9" ry="2.3" fill="#fff" stroke="#1a1a1a" stroke-width="0.75"/>
<circle cx="302.1" cy="169.5" r="0.9" fill="none" stroke="#1a1a1a" stroke-width="0.6"/>
<line x1="294.2" y1="172.6" x2="302.4" y2="177.5" stroke="#1a1a1a" stroke-width="0.9"/>
<line x1="318.7" y1="166.4" x2="323.9" y2="169.5" stroke="#1a1a1a" stroke-width="1.1"/>
<polygon points="307.7,177.2 310.8,175.7 314.9,178.2 311.9,179.7" fill="#fff" stroke="#1a1a1a" stroke-width="0.7"/>
<line x1="302.9" y1="179.7" x2="308.0" y2="177.2" stroke="#1a1a1a" stroke-width="0.55"/>
<circle cx="297.6" cy="155.1" r="1.1" fill="#111"/>
<path d="M310.9,170.1 A2.7,2.7 0 0 1 307.2,172.8" fill="none" stroke="#1a1a1a" stroke-width="0.8"/>
<line x1="310.6" y1="168.2" x2="316.9" y2="172.0" stroke="#1a1a1a" stroke-width="0.9"/>
<path d="M297.8,164.7 A4.8,4.8 0 0 1 297.6,156.6" fill="none" stroke="#1a1a1a" stroke-width="0.8"/>
<path d="M309.5,169.1 A4.2,4.2 0 0 1 316.4,170.4" fill="none" stroke="#1a1a1a" stroke-width="0.8"/>
<path d="M303.5,184.8 A3.2,3.2 0 0 1 298.1,184.4" fill="none" stroke="#1a1a1a" stroke-width="0.8"/>
<ellipse cx="314.1" cy="152.7" rx="1.9" ry="2.2" fill="#fff" stroke="#1a1a1a" stroke-width="0.75"/>
<circle cx="314.1" cy="152.7" r="0.9" fill="none" stroke="#1a1a1a" stroke-width="0.6"/>
<line x1="300.6" y1="170.3" x2="305.6" y2="167.9" stroke="#1a1a1a" stroke-width="0.7"/>
<ellipse cx="298.7" cy="154.2" rx="1.4" ry="1.6" fill="#fff" stroke="#1a1a1a" stroke-width="0.75"/>
<polygon points="306.6,161.1 309.1,159.8 311.4,161.2 308.9,162.5" fill="#fff" stroke="#1a1a1a" stroke-width="0.7"/>
<line x1="308.1" y1="165.2" x2="308.1" y2="172.1" stroke="#1a1a1a" stroke-width="0.55"/>
<ellipse cx="304.5" cy="181.7" rx="1.1" ry="1.3" fill="#fff" stroke="#1a1a1a" stroke-width="0.75"/>
<polygon points="319.4,167.7 323.3,165.7 324.7,168.0 320.8,170.0" fill="#fff" stroke="#1a1a1a" stroke-width="0.7"/>
<circle cx="305.3" cy="182.1" r="1.4" fill="#111"/>
<line x1="309.7" y1="162.5" x2="315.8" y2="159.4" stroke="#1a1a1a" stroke-width="0.7"/>
<polygon points="310.5,174.3 313.4,172.9 317.0,175.0 314.1,176.5" fill="#fff" stroke="#1a1a1a" stroke-width="0.7"/>
<polygon points="301.2,150.3 304.8,148.5 309.0,151.0 305.3,152.9" fill="#fff" stroke="#1a1a1a" stroke-width="0.7"/>
</g>
<path class="fw" d="M281,195.5 C298,196 313,199 325,203 L322,214 L312.7,220.8 C303,215 293,210 285,207 Z" />
<path class="gry" d="M283,201 C296,203 308,207 318,212" />
<path class="fw" d="M323,196 L341,193 L346,213 L340,219 L326,218 Z" />
<ellipse class="thk" cx="333.0" cy="204.5" rx="5.5" ry="9" transform="rotate(-20 333.0 204.5)" />
<ellipse class="ln" cx="333.5" cy="205.0" rx="3.5" ry="6.5" transform="rotate(-20 333.5 205.0)" />
<path class="fw" d="M312.5,215.5 Q312,213 314.5,212.5 L333,202 L338,211 L318,223.5 Q314.5,224 313.5,221 Z" />
<line x1="313.5" y1="214.8" x2="333.5" y2="203.2" stroke="#111" stroke-width="1.7"/>
<line x1="314.3" y1="217.5" x2="334.8" y2="205.8" stroke="#222" stroke-width="1.1"/>
<line x1="315.2" y1="219.8" x2="336" y2="208" stroke="#555" stroke-width="0.7"/>
<line x1="316.5" y1="222" x2="337" y2="210.2" stroke="#777" stroke-width="0.6"/>
<path class="fw" d="M328.9,177.4 L335.5,172.5 Q340,178 347,197 L340.4,202 Q334,190 328.9,177.4 Z" />
<line x1="330.0" y1="178.5" x2="334.0" y2="176.0" stroke="#333" stroke-width="1.0"/>
<line x1="331.6" y1="181.6" x2="335.6" y2="179.1" stroke="#333" stroke-width="1.0"/>
<line x1="333.1" y1="184.8" x2="337.1" y2="182.3" stroke="#333" stroke-width="1.0"/>
<line x1="334.7" y1="187.9" x2="338.7" y2="185.4" stroke="#333" stroke-width="1.0"/>
<line x1="336.3" y1="191.1" x2="340.3" y2="188.6" stroke="#333" stroke-width="1.0"/>
<line x1="337.9" y1="194.2" x2="341.9" y2="191.7" stroke="#333" stroke-width="1.0"/>
<line x1="339.4" y1="197.4" x2="343.4" y2="194.9" stroke="#333" stroke-width="1.0"/>
<polyline class="gry" points="332.0,171.0 338.0,168.0 351.0,196.0 345.0,204.0" />
<path class="fw" d="M229.6,143 C236,140 241,139 243.4,138.8 C252,133 264,133 272.9,137.9 L278.4,143.4 L276,150 C270,146 260,145 254.5,146.2 C251,149 250,152 250.8,155.4 L249,169.2 L234.2,161.8 Z" />
<path class="gry" d="M243.4,138.8 Q240,150 243,164" />
<ellipse class="fw" cx="229.2" cy="153.3" rx="6" ry="9.2" transform="rotate(-18 229.2 153.3)" style="stroke-width:0.9"/>
<path class="ln" d="M224.5,160 Q221,152 225,145" style="stroke-width:1.6"/>
<ellipse class="ln" cx="229.8" cy="153.3" rx="4.2" ry="7" transform="rotate(-18 229.8 153.3)" />
<polyline class="thk" points="226.0,145.0 232.0,141.0" />
<polyline class="thk" points="272.0,138.5 277.0,142.5" />
<path class="fw" d="M224,186 L228,174 L246,180 L246,192 L232,196 Z" />
<line x1="228.5" y1="175.5" x2="225.0" y2="183.0" stroke="#222" stroke-width="1.1"/>
<line x1="231.0" y1="176.4" x2="227.5" y2="184.4" stroke="#222" stroke-width="1.1"/>
<line x1="233.5" y1="177.3" x2="230.0" y2="185.8" stroke="#222" stroke-width="1.1"/>
<line x1="236.0" y1="178.2" x2="232.5" y2="187.2" stroke="#222" stroke-width="1.1"/>
<line x1="238.5" y1="179.1" x2="235.0" y2="188.6" stroke="#222" stroke-width="1.1"/>
<line x1="241.0" y1="180.0" x2="237.5" y2="190.0" stroke="#222" stroke-width="1.1"/>
<line x1="243.5" y1="180.9" x2="240.0" y2="191.4" stroke="#222" stroke-width="1.1"/>
<path class="fw" d="M253,159 L290,140.7 L298,138 L312.5,144.6 L314.5,150 L276,170 L256,165 Z" />
<polyline class="ln" points="255.0,162.0 296.0,142.0 312.0,149.0" />
<path class="fw" d="M279.8,153 Q292,149 297,157 L299.5,167 L283,172 Q282,160 279.8,153 Z" />
<path class="gry" d="M283,154 Q292,152 296,160" />
<path class="gry" d="M284,158 Q292,156 295,164" />
<rect x="286.4" y="141.4" width="9.8" height="7" fill="#fff" stroke="#222" stroke-width="0.75" transform="rotate(-25 291 145)"/>
<path class="fw" d="M267.5,163.5 L279,157.5 L284.5,168 L273,174 Z" />
<path class="gry" d="M270,165 L280,160" />
<path class="fw" d="M300,145.5 L308.5,140.8 L314.5,146.5 L314,153 L306,157 L300.5,152 Z" />
<path class="ln" d="M306,151 L306,157" />
<path class="ln" d="M300,145.5 L306,151 L314.5,146.5" />
<circle cx="260.7" cy="163.2" r="2" fill="#222"/>
<circle class="lnw" cx="260.7" cy="163.2" r="0.8" />
<ellipse cx="282" cy="174.5" rx="2.8" ry="2.3" fill="#222"/>
<circle cx="316" cy="163" r="1.8" fill="#222"/>
<polyline class="thk" points="291.3,188.8 322.4,172.5" />
<polyline class="ln" points="289.0,185.5 320.0,169.5" />
<polyline class="ln" points="292.0,192.0 323.0,175.5" />
<ellipse class="fw" cx="314.2" cy="185.5" rx="5.7" ry="6" transform="rotate(-20 314.2 185.5)" />
<ellipse class="ln" cx="314.2" cy="185.5" rx="3.5" ry="3.8" transform="rotate(-20 314.2 185.5)" />
<path class="fw" d="M325.7,40.5 L335.4,34.6 L338.2,34.6 L342.3,37.4 L343,40.5 L344.1,41.2 L347.2,44 L347.9,45.4 L347.2,51.7 L336.8,57.9 L334.7,57.2 L325.7,51 L325,43.3 Z" style="stroke-width:1.0"/>
<path class="ln" d="M326.3,41.9 L330.5,44.7 L331.2,48.9 L334.7,51.7 L335.4,57.2" />
<path class="gry" d="M330.5,44.7 L334,41.9 L343,40.5" />
<path class="gry" d="M334.7,51.7 L347.2,44" />
<path class="gry" d="M334,41.9 L334.5,36" />
<path class="gry" d="M338,41 L338.5,35" />
<text transform="translate(339.3,32.8) scale(0.86,1) skewX(-4)" font-size="6.6">13</text>
<path class="fw" d="M346.4,61.1 L348.5,59.5 L387.3,80.4 L387.3,95.5 L374.2,98.7 L365.2,92.2 Q364,88.5 361.9,88.9 L347.2,80.7 Z" />
<polyline class="ln" points="346.4,62.6 387.3,83.5" />
<ellipse class="lnk" cx="348.2" cy="59.7" rx="1.2" ry="1.6" transform="rotate(0 348.2 59.7)" />
<circle cx="342.3" cy="62.7" r="1.1" fill="#111"/>
<circle cx="342.3" cy="72.5" r="1.1" fill="#111"/>
<ellipse class="lnk" cx="346.0" cy="61.5" rx="0.9" ry="1.2" transform="rotate(0 346.0 61.5)" />
<ellipse class="lnk" cx="345.5" cy="71.0" rx="0.9" ry="1.2" transform="rotate(0 345.5 71.0)" />
<text transform="translate(342.5,83.4) scale(0.86,1) skewX(-4)" font-size="6.6">16</text>
<path class="fw" d="M361.1,51.3 Q362,48 366,47.5 L373.4,45.5 L387.3,51.3 L388,60 L378,78 L377.5,79.1 L364,76.5 Q362,76 362,73 Z" />
<path class="ln" d="M361.1,51.3 L377.5,57.8 L387.3,51.3" />
<path class="ln" d="M377.5,57.8 L377.5,79" />
<path class="gry" d="M365,53.5 L365.5,75" />
<ellipse class="lnw" cx="375.8" cy="50.5" rx="2.8" ry="1.8" transform="rotate(0 375.8 50.5)" />
<ellipse class="ln" cx="375.8" cy="49.6" rx="1.6" ry="0.9" transform="rotate(0 375.8 49.6)" />
<text transform="translate(365.0,46.2) scale(0.86,1) skewX(-4)" font-size="6.6">14</text>
<path class="fw" d="M382.4,39 Q383,36.5 385.6,37.4 L420.8,58.6 L420.5,74.5 L418.7,75.2 L418.5,61 L385,41.5 L384.5,47 Q384,50 382.6,49 Z" />
<polyline class="gry" points="388.0,49.0 418.0,66.0" />
<polyline class="gry" points="390.0,50.0 390.0,54.0" />
<polyline class="gry" points="393.0,56.0 418.0,70.0" />
<circle class="lnk" cx="422.5" cy="61.0" r="1.1" />
<circle cx="425.5" cy="62.5" r="0.9" fill="#111"/>
<circle class="lnk" cx="422.5" cy="71.0" r="1.1" />
<circle cx="425.5" cy="72.5" r="0.9" fill="#111"/>
<text transform="translate(425.4,54.1) scale(0.86,1) skewX(-4)" font-size="6.6">15</text>
<text transform="translate(429.9,66.5) scale(0.86,1) skewX(-4)" font-size="6.6">38</text>
<path class="fw" d="M382.4,65.2 Q382.5,59 386,58.6 L402,59.5 Q405.5,61 405.3,66.8 L403.6,85.6 Q403,91 397,91.4 L386,90 Q383,89 383,85 Z" />
<path class="gry" d="M386,66 L402,68" />
<line class="gry" x1="393.0" y1="68.0" x2="393.0" y2="90.0"/>
<ellipse class="fw" cx="394.6" cy="61.9" rx="6.3" ry="3.8" transform="rotate(0 394.6 61.9)" style="stroke-width:1.0"/>
<ellipse class="lnk" cx="394.6" cy="61.6" rx="4.4" ry="2.5" transform="rotate(0 394.6 61.6)" />
<path class="fw" d="M391,91 L391,96.5 Q394,98.5 397,96.5 L397,91" />
<ellipse class="lnk" cx="383.2" cy="86.5" rx="1.1" ry="1.4" transform="rotate(0 383.2 86.5)" />
<ellipse class="lnk" cx="383.2" cy="93.0" rx="1.1" ry="1.4" transform="rotate(0 383.2 93.0)" />
<circle cx="379.1" cy="88.1" r="1.0" fill="#111"/>
<circle cx="379.1" cy="95.5" r="1.0" fill="#111"/>
<text transform="translate(372.7,85.9) scale(0.86,1) skewX(-4)" font-size="6.6">40</text>
<text transform="translate(372.7,93.4) scale(0.86,1) skewX(-4)" font-size="6.6">39</text>
<path class="ln" d="M379.5,34 L381.8,10.5 Q382.2,8.2 385,8 L391.5,6.8 Q393.8,7 393.8,9.5 L394.2,22" style="stroke-width:3.2;stroke-linejoin:round"/>
<path class="ln" d="M379.5,34 L381.8,10.5 Q382.2,8.2 385,8 L391.5,6.8 Q393.8,7 393.8,9.5 L394.2,22" style="stroke:#fff;stroke-width:1.4"/>
<circle class="lnk" cx="379.8" cy="30.0" r="1.1" />
<circle cx="379.8" cy="34.5" r="1.0" fill="#111"/>
<circle class="lnk" cx="394.2" cy="19.0" r="1.1" />
<circle cx="394.3" cy="23.0" r="1.0" fill="#111"/>
<text transform="translate(374.7,19.3) scale(0.86,1) skewX(-4)" font-size="6.6">18</text>
<text transform="translate(403.5,17.7) scale(0.86,1) skewX(-4)" font-size="6.6">38</text>
<text transform="translate(372.5,32.8) scale(0.86,1) skewX(-4)" font-size="6.6">38</text>
<path class="fw" d="M407,39 L407,44.5 Q413.5,49.5 420,44.5 L420,39" style="stroke-width:1.0"/>
<ellipse class="fw" cx="413.5" cy="38.8" rx="6.5" ry="4" transform="rotate(-5 413.5 38.8)" style="stroke-width:1.0"/>
<ellipse class="gry" cx="413.5" cy="38.5" rx="4" ry="2.3" transform="rotate(-5 413.5 38.5)" />
<line class="gry" x1="408.5" y1="41.5" x2="408.5" y2="46.0"/>
<line class="gry" x1="411.0" y1="43.0" x2="411.0" y2="47.5"/>
<line class="gry" x1="413.5" y1="43.0" x2="413.5" y2="47.5"/>
<line class="gry" x1="416.0" y1="43.0" x2="416.0" y2="47.5"/>
<line class="gry" x1="418.5" y1="41.5" x2="418.5" y2="46.0"/>
<text transform="translate(424.2,32.8) scale(0.86,1) skewX(-4)" font-size="6.6">19</text>
<path class="fw" d="M355.8,114.2 L387.4,107 L391.5,109 L390.5,121.3 L381.3,132.5 L356.8,118.2 Z" />
<path class="ln" d="M364,114.2 L379,112 L381.3,121.3 L366,118 Z" />
<path class="ln" d="M381.3,110 L389.5,110 L385.4,117.2 Z" />
<path class="gry" d="M357,117 L380,130" />
<circle cx="374.2" cy="133.6" r="1.0" fill="#111"/>
<circle class="lnk" cx="374.2" cy="136.8" r="1.0" />
<circle cx="396.6" cy="115.2" r="1.0" fill="#111"/>
<circle class="lnk" cx="396.6" cy="119.3" r="1.0" />
<text transform="translate(359.6,128.5) scale(0.86,1) skewX(-4)" font-size="6.6">17</text>
<text transform="translate(368.0,133.9) scale(0.86,1) skewX(-4)" font-size="6.6">40</text>
<text transform="translate(368.0,140.6) scale(0.86,1) skewX(-4)" font-size="6.6">39</text>
<text transform="translate(404.8,116.6) scale(0.86,1) skewX(-4)" font-size="6.6">40</text>
<text transform="translate(404.8,122.7) scale(0.86,1) skewX(-4)" font-size="6.6">39</text>
<line x1="365.5" y1="105.2" x2="362.1" y2="107.0" stroke="#111" stroke-width="1.3"/>
<ellipse cx="365.5" cy="105.2" rx="1.2" ry="1.0" fill="#fff" stroke="#111" stroke-width="0.8"/>
<circle cx="359.9" cy="108.2" r="1.15" fill="#111"/>
<text transform="translate(357.8,103.3) scale(0.86,1) skewX(-4)" font-size="6.6">30</text>
<text transform="translate(352.7,110.4) scale(0.86,1) skewX(-4)" font-size="6.6">27</text>
<line x1="403.5" y1="129.3" x2="400.0" y2="131.3" stroke="#111" stroke-width="1.3"/>
<ellipse cx="403.5" cy="129.3" rx="1.2" ry="1.0" fill="#fff" stroke="#111" stroke-width="0.8"/>
<circle cx="397.7" cy="132.6" r="1.15" fill="#111"/>
<text transform="translate(408.9,132.9) scale(0.86,1) skewX(-4)" font-size="6.6">30</text>
<text transform="translate(398.7,140.1) scale(0.86,1) skewX(-4)" font-size="6.6">27</text>
<path d="M321.5,112.0 C322.0,110.3 323.1,104.8 324.5,102.0 C325.9,99.2 327.9,96.5 330.0,95.5 C332.1,94.5 335.7,95.0 337.0,96.0 C338.3,97.0 337.8,100.6 338.0,101.5" fill="none" stroke="#1a1a1a" stroke-width="10.7" stroke-linecap="butt"/>
<path d="M321.5,112.0 C322.0,110.3 323.1,104.8 324.5,102.0 C325.9,99.2 327.9,96.5 330.0,95.5 C332.1,94.5 335.7,95.0 337.0,96.0 C338.3,97.0 337.8,100.6 338.0,101.5" fill="none" stroke="#fff" stroke-width="8.5" stroke-linecap="butt"/>
<ellipse class="lnw" cx="321.5" cy="112.0" rx="2.3800000000000003" ry="4.8" transform="rotate(106.69924423399362 321.5 112.0)" />
<ellipse class="lnw" cx="338.0" cy="101.5" rx="2.3800000000000003" ry="4.8" transform="rotate(79.69515353123397 338.0 101.5)" />
<ellipse cx="316.9" cy="116.0" rx="4" ry="3" transform="rotate(-10 316.9 116.0)" fill="#fff" stroke="#111" stroke-width="1.8"/>
<text transform="translate(308.5,113.9) scale(0.86,1) skewX(-4)" font-size="6.6">33</text>
<ellipse cx="334.3" cy="113.1" rx="4" ry="3" transform="rotate(-10 334.3 113.1)" fill="#fff" stroke="#111" stroke-width="1.8"/>
<text transform="translate(345.5,119.6) scale(0.86,1) skewX(-4)" font-size="6.6">33</text>
<text transform="translate(318.0,98.6) scale(0.86,1) skewX(-4)" font-size="6.6">10</text>
<line x1="331.0" y1="123.8" x2="328.0" y2="125.4" stroke="#111" stroke-width="1.3"/>
<ellipse cx="331.0" cy="123.8" rx="1.2" ry="1.0" fill="#fff" stroke="#111" stroke-width="0.8"/>
<circle cx="326.0" cy="126.5" r="1.15" fill="#111"/>
<circle cx="322.5" cy="128.2" r="1.0" fill="#111"/>
<text transform="translate(327.0,123.4) scale(0.86,1) skewX(-4)" font-size="6.6">29</text>
<text transform="translate(316.9,128.5) scale(0.86,1) skewX(-4)" font-size="6.6">27</text>
<text transform="translate(316.9,136.4) scale(0.86,1) skewX(-4)" font-size="6.6">34</text>
<path class="fw" d="M325,136 Q328,133 332,136 L330,140 Z" />
<path d="M336.0,123.5 C335.8,125.4 335.2,131.1 335.0,135.0 C334.8,138.9 334.2,142.8 335.0,147.0 C335.8,151.2 338.0,156.6 340.0,160.0 C342.0,163.4 344.2,165.2 347.0,167.5 C349.8,169.8 353.5,172.8 357.0,174.0 C360.5,175.2 366.2,174.8 368.0,175.0" fill="none" stroke="#1a1a1a" stroke-width="7.4" stroke-linecap="butt"/>
<path d="M336.0,123.5 C335.8,125.4 335.2,131.1 335.0,135.0 C334.8,138.9 334.2,142.8 335.0,147.0 C335.8,151.2 338.0,156.6 340.0,160.0 C342.0,163.4 344.2,165.2 347.0,167.5 C349.8,169.8 353.5,172.8 357.0,174.0 C360.5,175.2 366.2,174.8 368.0,175.0" fill="none" stroke="#fff" stroke-width="5.2" stroke-linecap="butt"/>
<ellipse class="lnw" cx="336.0" cy="123.5" rx="1.4560000000000002" ry="3.1500000000000004" transform="rotate(-85.0302592718897 336.0 123.5)" />
<ellipse class="lnw" cx="368.0" cy="175.0" rx="1.4560000000000002" ry="3.1500000000000004" transform="rotate(5.194428907734806 368.0 175.0)" />
<ellipse class="fw" cx="370.2" cy="174.5" rx="2.4" ry="3.5" transform="rotate(-20 370.2 174.5)" />
<text transform="translate(355.1,166.8) scale(0.86,1) skewX(-4)" font-size="6.6">2</text>
<line class="gry" x1="346.0" y1="167.0" x2="352.0" y2="165.0"/>
<circle cx="363.0" cy="182.0" r="1.1" fill="#111"/>
<text transform="translate(369.2,193.0) scale(0.86,1) skewX(-4)" font-size="6.6">34</text>
<circle cx="374.9" cy="185.0" r="1.0" fill="#111"/>
<text transform="translate(380.0,190.8) scale(0.86,1) skewX(-4)" font-size="6.6">27</text>
<line x1="386.0" y1="180.5" x2="382.0" y2="182.0" stroke="#111" stroke-width="1.3"/>
<ellipse cx="386.0" cy="180.5" rx="1.2" ry="1.0" fill="#fff" stroke="#111" stroke-width="0.8"/>
<circle cx="379.4" cy="183.0" r="1.15" fill="#111"/>
<text transform="translate(388.4,185.1) scale(0.86,1) skewX(-4)" font-size="6.6">29</text>
<path d="M410.5,154.0 C409.0,153.7 405.5,152.2 403.0,152.5 C400.5,152.8 398.4,154.0 398.0,155.5 C397.6,157.0 399.7,158.4 401.0,160.0 C402.3,161.6 403.8,162.8 404.5,163.5" fill="none" stroke="#1a1a1a" stroke-width="10.7" stroke-linecap="butt"/>
<path d="M410.5,154.0 C409.0,153.7 405.5,152.2 403.0,152.5 C400.5,152.8 398.4,154.0 398.0,155.5 C397.6,157.0 399.7,158.4 401.0,160.0 C402.3,161.6 403.8,162.8 404.5,163.5" fill="none" stroke="#fff" stroke-width="8.5" stroke-linecap="butt"/>
<ellipse class="lnw" cx="410.5" cy="154.0" rx="2.3800000000000003" ry="4.8" transform="rotate(11.309932474020213 410.5 154.0)" />
<ellipse class="lnw" cx="404.5" cy="163.5" rx="2.3800000000000003" ry="4.8" transform="rotate(45.0 404.5 163.5)" />
<text transform="translate(391.7,157.0) scale(0.86,1) skewX(-4)" font-size="6.6">6</text>
<ellipse cx="386.1" cy="166.0" rx="4.2" ry="3.2" transform="rotate(25 386.1 166.0)" fill="#fff" stroke="#111" stroke-width="1.8"/>
<text transform="translate(376.0,164.2) scale(0.86,1) skewX(-4)" font-size="6.6">33</text>
<ellipse cx="414.2" cy="172.6" rx="4.2" ry="3.0" transform="rotate(-35 414.2 172.6)" fill="#fff" stroke="#111" stroke-width="1.8"/>
<text transform="translate(425.5,175.0) scale(0.86,1) skewX(-4)" font-size="6.6">33</text>
<ellipse cx="397.6" cy="178.5" rx="4.2" ry="3.0" transform="rotate(5 397.6 178.5)" fill="#fff" stroke="#111" stroke-width="1.8"/>
<text transform="translate(407.5,184.0) scale(0.86,1) skewX(-4)" font-size="6.6">33</text>
<path d="M399.5,187.0 C399.2,188.8 398.8,194.5 398.0,198.0 C397.2,201.5 396.2,204.0 395.0,208.0 C393.8,212.0 391.6,218.0 391.0,222.0 C390.4,226.0 391.6,230.3 391.7,232.0" fill="none" stroke="#1a1a1a" stroke-width="8.7" stroke-linecap="butt"/>
<path d="M399.5,187.0 C399.2,188.8 398.8,194.5 398.0,198.0 C397.2,201.5 396.2,204.0 395.0,208.0 C393.8,212.0 391.6,218.0 391.0,222.0 C390.4,226.0 391.6,230.3 391.7,232.0" fill="none" stroke="#fff" stroke-width="6.5" stroke-linecap="butt"/>
<ellipse class="lnw" cx="399.5" cy="187.0" rx="1.8200000000000003" ry="3.8" transform="rotate(-82.23483398157467 399.5 187.0)" />
<ellipse class="lnw" cx="391.7" cy="232.0" rx="1.8200000000000003" ry="3.8" transform="rotate(85.99582705929069 391.7 232.0)" />
<ellipse class="fw" cx="399.5" cy="188.0" rx="4.6" ry="2.8" transform="rotate(0 399.5 188.0)" style="stroke-width:1.2"/>
<ellipse class="ln" cx="399.5" cy="187.3" rx="3.4" ry="1.8" transform="rotate(0 399.5 187.3)" />
<text transform="translate(388.4,214.8) scale(0.86,1) skewX(-4)" font-size="6.6">7</text>
<ellipse cx="392" cy="239" rx="3.6" ry="2.6" fill="#333"/>
<ellipse class="lnw" cx="392.0" cy="238.2" rx="2.2" ry="1.1" transform="rotate(0 392.0 238.2)" />
<text transform="translate(401.9,241.4) scale(0.86,1) skewX(-4)" font-size="6.6">32</text>
<polyline class="dsh" points="419.9,165.0 419.9,205.2 367.0,236.7" />
<path class="fw" d="M366.9,262 L368,258 L377,257.5 L383.8,262.6 L388.8,264.8 L373.6,275 Z" />
<path class="ln" d="M371.4,260.9 L374.2,273.3" />
<path class="fw" d="M383.8,260.9 L381,251 L384.9,249.6 L391.6,248.5 L402.9,256.9 L404,257.5 L388.8,264.8 Z" />
<path class="ln" d="M384,251 L386.5,262" />
<polyline class="thk" points="373.6,275.0 404.0,257.5" />
<ellipse class="fw" cx="367.4" cy="258.6" rx="2.4" ry="3.1" transform="rotate(-30 367.4 258.6)" style="stroke-width:1.3"/>
<ellipse class="fw" cx="379.3" cy="246.8" rx="2.4" ry="3.1" transform="rotate(-30 379.3 246.8)" style="stroke-width:1.3"/>
<path class="ln" d="M368.5,256 L371,255 L372,259" />
<path class="ln" d="M380.5,244 L383,243.5 L384,248" />
<polyline class="ln" points="391.6,248.5 404.0,257.0 411.9,262.0 420.0,262.6 722.9,437.5" style="stroke-width:1.1"/>
<polyline class="gry" points="412.0,264.0 420.0,264.6 722.0,439.5" />
<polyline class="thk" points="373.6,275.0 382.6,280.0 384.9,283.4 687.8,458.9" />
<polyline class="ln" points="687.8,458.9 722.9,437.5" />
<polyline class="thk" points="697.0,453.0 722.0,439.0" />
<circle class="ln" cx="417.2" cy="263.8" r="0.8" />
<circle class="ln" cx="417.2" cy="300.9" r="0.8" />
<circle class="ln" cx="449.8" cy="282.4" r="0.8" />
<circle class="ln" cx="449.8" cy="319.5" r="0.8" />
<circle class="ln" cx="482.4" cy="301.0" r="0.8" />
<circle class="ln" cx="482.4" cy="338.1" r="0.8" />
<circle class="ln" cx="515.0" cy="319.6" r="0.8" />
<circle class="ln" cx="515.0" cy="356.7" r="0.8" />
<circle class="ln" cx="547.6" cy="338.2" r="0.8" />
<circle class="ln" cx="547.6" cy="375.3" r="0.8" />
<circle class="ln" cx="580.2" cy="356.8" r="0.8" />
<circle class="ln" cx="580.2" cy="393.9" r="0.8" />
<circle class="ln" cx="612.8" cy="375.4" r="0.8" />
<circle class="ln" cx="612.8" cy="412.5" r="0.8" />
<circle class="ln" cx="645.4" cy="394.0" r="0.8" />
<circle class="ln" cx="645.4" cy="431.1" r="0.8" />
<circle class="ln" cx="678.0" cy="412.6" r="0.8" />
<circle class="ln" cx="678.0" cy="449.7" r="0.8" />
<circle class="ln" cx="710.6" cy="431.2" r="0.8" />
<text transform="translate(446.1,263.3) scale(0.86,1) skewX(-4)" font-size="6.6">12</text>
<line class="gry" x1="437.0" y1="269.4" x2="443.0" y2="264.0"/>
<ellipse class="lnk" cx="715.0" cy="446.0" rx="1.5" ry="1.3" transform="rotate(0 715.0 446.0)" />
<circle cx="719.0" cy="449.0" r="1.0" fill="#111"/>
<ellipse class="lnk" cx="723.6" cy="451.7" rx="1.4" ry="1.1" transform="rotate(0 723.6 451.7)" />
<text transform="translate(727.4,449.7) scale(0.86,1) skewX(-4)" font-size="6.6">44</text>
<text transform="translate(715.2,456.7) scale(0.86,1) skewX(-4)" font-size="6.6">45</text>
<polyline class="dsh" points="320.0,262.3 347.6,243.9 363.3,257.7" />
<polyline class="dsh" points="367.0,235.6 388.0,223.7" />
<polyline class="dsh" points="347.7,194.5 370.0,186.4" />
<polyline class="dsh" points="299.7,77.4 267.5,95.8 315.4,119.7" />
<polyline class="dsh" points="299.7,114.2 282.2,143.7" />
<polyline class="dsh" points="310.8,125.2 312.6,134.5" />
<polyline class="dsh" points="393.3,99.6 394.5,104.0 455.8,142.5 370.0,185.4" />
<polyline class="dsh" points="272.0,380.4 312.7,407.2 347.7,429.6" />
<polyline class="dsh" points="245.3,397.2 284.5,423.7 325.0,450.3 350.5,463.7" />
<polyline class="dsh" points="268.6,409.8 282.6,453.8" />
<polyline class="dsh" points="243.3,426.4 322.5,480.8" />
<polyline class="dsh" points="198.7,442.0 198.7,451.8 234.5,472.5" />
<polyline class="dsh" points="235.3,432.0 235.3,472.5" />
<polyline class="dsh" points="268.6,381.7 329.0,420.0" />
<polygon class="gry" points="220.0,346.7 236.5,337.0 236.5,356.4 220.0,367.0" />
<line class="gry" x1="208.0" y1="355.4" x2="220.0" y2="355.4"/>
<text transform="translate(212.2,357.8) scale(0.86,1) skewX(-4)" font-size="6.6">51</text>
<path class="fw" d="M223,347 Q224,344 228,344.5 L233.6,347 L233,351 L229,350 L228,354.4 L224,352 Z" />
<path class="fw" d="M227.8,356 L232,354.5 L234,357.5 L229.5,359.3 Z" />
<line x1="220.5" y1="338.7" x2="223.8" y2="340.0" stroke="#111" stroke-width="1.3"/>
<ellipse cx="220.5" cy="338.7" rx="1.2" ry="1.0" fill="#fff" stroke="#111" stroke-width="0.8"/>
<circle cx="226.0" cy="340.9" r="1.15" fill="#111"/>
<text transform="translate(213.2,341.3) scale(0.86,1) skewX(-4)" font-size="6.6">45</text>
<text transform="translate(241.4,344.2) scale(0.86,1) skewX(-4)" font-size="6.6">52</text>
<text transform="translate(245.3,351.0) scale(0.86,1) skewX(-4)" font-size="6.6">53</text>
<polyline class="thk" points="206.4,378.7 254.0,352.5" />
<polyline class="ln" points="208.3,382.6 255.0,356.4" />
<polyline class="gry" points="209.3,384.6 255.0,359.3" />
<polyline class="thk" points="209.3,420.5 253.0,396.2" />
<path class="fw" d="M249.2,353.5 L258,350.6 L263.7,354.4 L262.8,389.4 L254,397.2 L253,356.4 Z" style="stroke-width:1.1"/>
<line class="gry" x1="258.0" y1="356.0" x2="258.0" y2="392.0"/>
<line class="gry" x1="255.5" y1="357.0" x2="255.5" y2="395.0"/>
<path class="fw" d="M255,352 Q255,346 259,345 L262,344.5 L264,348.5 L258,351.5 Z" />
<ellipse class="lnk" cx="262.8" cy="345.7" rx="2.8" ry="3.2" transform="rotate(-20 262.8 345.7)" />
<path class="fw" d="M194.7,387.5 Q195,383.6 199,383 L206.4,379.7 Q209,380 209.3,384 L209.3,420.5 L205.4,423.5 L199.6,425.4 Q194,425 193.7,421.5 Z" style="stroke-width:1.1"/>
<line class="gry" x1="197.6" y1="387.0" x2="197.6" y2="421.0"/>
<line class="ln" x1="205.4" y1="384.0" x2="205.4" y2="423.0"/>
<path class="fw" d="M194,417 L190,418.5 L191,423.5 L194.5,422.5" />
<ellipse class="lnk" cx="191.5" cy="421.0" rx="2.4" ry="2.8" transform="rotate(-10 191.5 421.0)" />
<text transform="translate(203.5,373.4) scale(0.86,1) skewX(-4)" font-size="6.6">47</text>
<line class="gry" x1="206.5" y1="373.0" x2="207.5" y2="378.0"/>
<line x1="240.8" y1="393.0" x2="243.8" y2="395.5" stroke="#111" stroke-width="1.3"/>
<ellipse cx="240.8" cy="393.0" rx="1.2" ry="1.0" fill="#fff" stroke="#111" stroke-width="0.8"/>
<circle cx="245.8" cy="397.2" r="1.15" fill="#111"/>
<ellipse cx="253" cy="399.5" rx="3" ry="2.5" fill="#333"/>
<ellipse class="lnw" cx="253.0" cy="398.6" rx="1.9" ry="1.0" transform="rotate(0 253.0 398.6)" />
<ellipse cx="253.0" cy="406.9" rx="2.6" ry="2.0" transform="rotate(0 253.0 406.9)" fill="#fff" stroke="#111" stroke-width="1.9"/>
<text transform="translate(263.7,400.6) scale(0.86,1) skewX(-4)" font-size="6.6">50</text>
<text transform="translate(243.3,414.2) scale(0.86,1) skewX(-4)" font-size="6.6">21</text>
<line x1="263.2" y1="406.6" x2="266.4" y2="408.5" stroke="#111" stroke-width="1.3"/>
<ellipse cx="263.2" cy="406.6" rx="1.2" ry="1.0" fill="#fff" stroke="#111" stroke-width="0.8"/>
<circle cx="268.6" cy="409.8" r="1.15" fill="#111"/>
<line x1="267.0" y1="377.0" x2="269.7" y2="379.5" stroke="#111" stroke-width="1.3"/>
<ellipse cx="267.0" cy="377.0" rx="1.2" ry="1.0" fill="#fff" stroke="#111" stroke-width="0.8"/>
<circle cx="271.5" cy="381.2" r="1.15" fill="#111"/>
<text transform="translate(268.6,373.4) scale(0.86,1) skewX(-4)" font-size="6.6">45</text>
<text transform="translate(280.0,378.5) scale(0.86,1) skewX(-4)" font-size="6.6">40</text>
<line x1="237.0" y1="423.2" x2="240.8" y2="425.1" stroke="#111" stroke-width="1.3"/>
<ellipse cx="237.0" cy="423.2" rx="1.2" ry="1.0" fill="#fff" stroke="#111" stroke-width="0.8"/>
<circle cx="243.3" cy="426.4" r="1.15" fill="#111"/>
<ellipse cx="199.8" cy="431.3" rx="3" ry="2.5" fill="#333"/>
<ellipse class="lnw" cx="199.8" cy="430.4" rx="1.9" ry="1.0" transform="rotate(0 199.8 430.4)" />
<text transform="translate(189.5,433.7) scale(0.86,1) skewX(-4)" font-size="6.6">50</text>
<ellipse cx="198.7" cy="438.5" rx="2.6" ry="2.0" transform="rotate(0 198.7 438.5)" fill="#fff" stroke="#111" stroke-width="1.9"/>
<text transform="translate(209.0,442.4) scale(0.86,1) skewX(-4)" font-size="6.6">21</text>
<path class="fw" d="M264.1,416.9 L314.6,391.7 L318.5,385.8 L321.4,384.9 L323.3,391 L328.2,391.7 L329.2,444 L291.3,453.8 L260.2,469.3 Q262,466 261.2,464.5 Q259,462 260.2,461.6 Q261,457 254.4,454.8 Q247,453 246.7,451.8 L247.6,428.5 Q248,426 252,426 L256.4,425.6 L264.1,429.5 L270.9,421.7 Z" />
<polyline class="ln" points="270.9,421.7 318.5,397.5" />
<polyline class="gry" points="272.0,424.0 322.0,399.0" />
<path class="ln" d="M318.5,385.8 L321,394.6 L328.2,391.7" />
<line class="gry" x1="264.1" y1="429.5" x2="264.1" y2="468.0"/>
<line class="gry" x1="256.0" y1="428.0" x2="256.0" y2="454.0"/>
<ellipse class="ln" cx="296.9" cy="430.0" rx="9.75" ry="24.3" transform="rotate(38.2 296.9 430.0)" style="stroke-width:1.0"/>
<path class="gry" d="M287,420 L300,425 L300,440 L287,436" />
<circle cx="284.5" cy="423.7" r="0.8" fill="#111"/>
<circle cx="312.7" cy="407.2" r="0.8" fill="#111"/>
<circle cx="282.6" cy="453.8" r="0.8" fill="#111"/>
<circle cx="293.3" cy="454.8" r="0.8" fill="#111"/>
<path class="ln" d="M285.5,404 Q287,401.5 290,403" />
<circle cx="293.3" cy="405.2" r="0.9" fill="#111"/>
<text transform="translate(301.0,407.6) scale(0.86,1) skewX(-4)" font-size="6.6">39</text>
<text transform="translate(304.9,393.1) scale(0.86,1) skewX(-4)" font-size="6.6">48</text>
<ellipse class="fw" cx="326.5" cy="451.0" rx="15.5" ry="29.2" transform="rotate(34 326.5 451.0)" style="stroke-width:1.0"/>
<ellipse class="fw" cx="329.8" cy="452.0" rx="15.5" ry="29.2" transform="rotate(34 329.8 452.0)" style="stroke-width:1.0"/>
<ellipse class="ln" cx="334.0" cy="456.3" rx="11.4" ry="15.2" transform="rotate(21 334.0 456.3)" style="stroke-width:1.1"/>
<ellipse class="gry" cx="334.6" cy="456.8" rx="10.2" ry="13.8" transform="rotate(21 334.6 456.8)" />
<path class="fw" d="M310.6,448 L316.6,450 L316,455 L310,453 Z" />
<path class="fw" d="M308.3,469.4 L313.6,471.5 L313,475 L308,473 Z" />
<circle cx="324.2" cy="450.5" r="0.95" fill="#111"/>
<circle cx="327.8" cy="452.0" r="0.95" fill="#111"/>
<circle cx="350.0" cy="464.0" r="0.95" fill="#111"/>
<circle cx="353.7" cy="467.0" r="0.95" fill="#111"/>
<circle cx="322.7" cy="480.0" r="0.95" fill="#111"/>
<circle cx="326.5" cy="483.0" r="0.95" fill="#111"/>
<circle cx="352.0" cy="434.7" r="0.95" fill="#111"/>
<circle cx="355.8" cy="437.5" r="0.95" fill="#111"/>
<circle cx="341.6" cy="426.3" r="0.95" fill="#111"/>
<text transform="translate(342.3,480.1) scale(0.86,1) skewX(-4)" font-size="6.6">49</text>
<text transform="translate(352.2,428.7) scale(0.86,1) skewX(-4)" font-size="6.6">54</text>
<text transform="translate(361.2,435.5) scale(0.86,1) skewX(-4)" font-size="6.6">39</text>
</svg></body></html>
